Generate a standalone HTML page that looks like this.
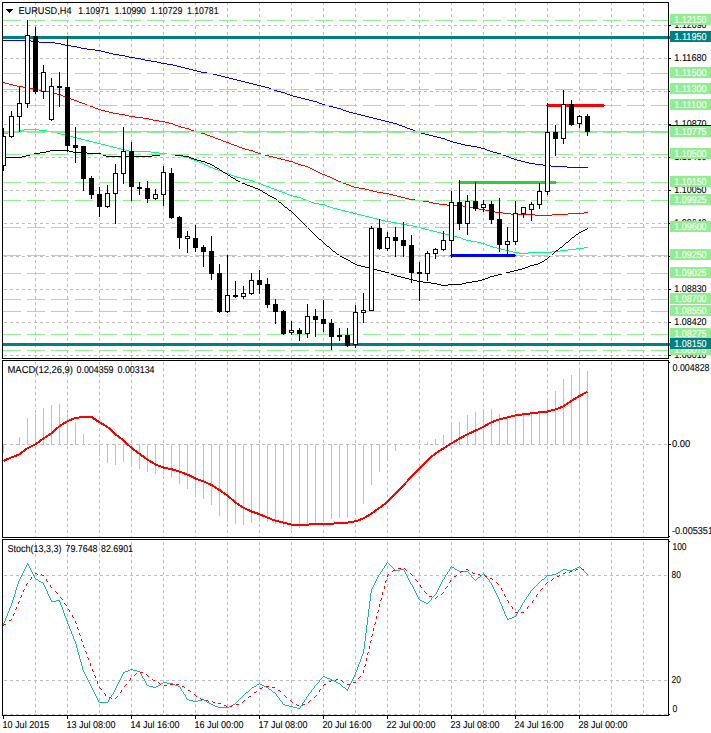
<!DOCTYPE html>
<html><head><meta charset="utf-8"><title>EURUSD,H4</title>
<style>
html,body{margin:0;padding:0;background:#fff;}
body{width:711px;height:733px;overflow:hidden;font-family:"Liberation Sans",sans-serif;}
svg{display:block;}
svg text{font-family:"Liberation Sans",sans-serif;}
</style></head><body>
<svg width="711" height="733" viewBox="0 0 711 733" shape-rendering="crispEdges" text-rendering="geometricPrecision" font-family="Liberation Sans, sans-serif">
<path d="M35.5 3v2M35.5 8v3M35.5 14v3M35.5 20v3M35.5 26v3M35.5 32v3M35.5 38v3M35.5 44v3M35.5 50v3M35.5 56v3M35.5 62v3M35.5 68v3M35.5 74v3M35.5 80v3M35.5 86v3M35.5 92v3M35.5 98v3M35.5 104v3M35.5 110v3M35.5 116v3M35.5 122v3M35.5 128v3M35.5 134v3M35.5 140v3M35.5 146v3M35.5 152v3M35.5 158v3M35.5 164v3M35.5 170v3M35.5 176v3M35.5 182v3M35.5 188v3M35.5 194v3M35.5 200v3M35.5 206v3M35.5 212v3M35.5 218v3M35.5 224v3M35.5 230v3M35.5 236v3M35.5 242v3M35.5 248v3M35.5 254v3M35.5 260v3M35.5 266v3M35.5 272v3M35.5 278v3M35.5 284v3M35.5 290v3M35.5 296v3M35.5 302v3M35.5 308v3M35.5 314v3M35.5 320v3M35.5 326v3M35.5 332v3M35.5 338v3M35.5 344v3M35.5 350v3M35.5 356v2" stroke="#BDBDBD" stroke-width="1" fill="none"/>
<path d="M67.5 3v2M67.5 8v3M67.5 14v3M67.5 20v3M67.5 26v3M67.5 32v3M67.5 38v3M67.5 44v3M67.5 50v3M67.5 56v3M67.5 62v3M67.5 68v3M67.5 74v3M67.5 80v3M67.5 86v3M67.5 92v3M67.5 98v3M67.5 104v3M67.5 110v3M67.5 116v3M67.5 122v3M67.5 128v3M67.5 134v3M67.5 140v3M67.5 146v3M67.5 152v3M67.5 158v3M67.5 164v3M67.5 170v3M67.5 176v3M67.5 182v3M67.5 188v3M67.5 194v3M67.5 200v3M67.5 206v3M67.5 212v3M67.5 218v3M67.5 224v3M67.5 230v3M67.5 236v3M67.5 242v3M67.5 248v3M67.5 254v3M67.5 260v3M67.5 266v3M67.5 272v3M67.5 278v3M67.5 284v3M67.5 290v3M67.5 296v3M67.5 302v3M67.5 308v3M67.5 314v3M67.5 320v3M67.5 326v3M67.5 332v3M67.5 338v3M67.5 344v3M67.5 350v3M67.5 356v2" stroke="#BDBDBD" stroke-width="1" fill="none"/>
<path d="M99.5 3v2M99.5 8v3M99.5 14v3M99.5 20v3M99.5 26v3M99.5 32v3M99.5 38v3M99.5 44v3M99.5 50v3M99.5 56v3M99.5 62v3M99.5 68v3M99.5 74v3M99.5 80v3M99.5 86v3M99.5 92v3M99.5 98v3M99.5 104v3M99.5 110v3M99.5 116v3M99.5 122v3M99.5 128v3M99.5 134v3M99.5 140v3M99.5 146v3M99.5 152v3M99.5 158v3M99.5 164v3M99.5 170v3M99.5 176v3M99.5 182v3M99.5 188v3M99.5 194v3M99.5 200v3M99.5 206v3M99.5 212v3M99.5 218v3M99.5 224v3M99.5 230v3M99.5 236v3M99.5 242v3M99.5 248v3M99.5 254v3M99.5 260v3M99.5 266v3M99.5 272v3M99.5 278v3M99.5 284v3M99.5 290v3M99.5 296v3M99.5 302v3M99.5 308v3M99.5 314v3M99.5 320v3M99.5 326v3M99.5 332v3M99.5 338v3M99.5 344v3M99.5 350v3M99.5 356v2" stroke="#BDBDBD" stroke-width="1" fill="none"/>
<path d="M131.5 3v2M131.5 8v3M131.5 14v3M131.5 20v3M131.5 26v3M131.5 32v3M131.5 38v3M131.5 44v3M131.5 50v3M131.5 56v3M131.5 62v3M131.5 68v3M131.5 74v3M131.5 80v3M131.5 86v3M131.5 92v3M131.5 98v3M131.5 104v3M131.5 110v3M131.5 116v3M131.5 122v3M131.5 128v3M131.5 134v3M131.5 140v3M131.5 146v3M131.5 152v3M131.5 158v3M131.5 164v3M131.5 170v3M131.5 176v3M131.5 182v3M131.5 188v3M131.5 194v3M131.5 200v3M131.5 206v3M131.5 212v3M131.5 218v3M131.5 224v3M131.5 230v3M131.5 236v3M131.5 242v3M131.5 248v3M131.5 254v3M131.5 260v3M131.5 266v3M131.5 272v3M131.5 278v3M131.5 284v3M131.5 290v3M131.5 296v3M131.5 302v3M131.5 308v3M131.5 314v3M131.5 320v3M131.5 326v3M131.5 332v3M131.5 338v3M131.5 344v3M131.5 350v3M131.5 356v2" stroke="#BDBDBD" stroke-width="1" fill="none"/>
<path d="M163.5 3v2M163.5 8v3M163.5 14v3M163.5 20v3M163.5 26v3M163.5 32v3M163.5 38v3M163.5 44v3M163.5 50v3M163.5 56v3M163.5 62v3M163.5 68v3M163.5 74v3M163.5 80v3M163.5 86v3M163.5 92v3M163.5 98v3M163.5 104v3M163.5 110v3M163.5 116v3M163.5 122v3M163.5 128v3M163.5 134v3M163.5 140v3M163.5 146v3M163.5 152v3M163.5 158v3M163.5 164v3M163.5 170v3M163.5 176v3M163.5 182v3M163.5 188v3M163.5 194v3M163.5 200v3M163.5 206v3M163.5 212v3M163.5 218v3M163.5 224v3M163.5 230v3M163.5 236v3M163.5 242v3M163.5 248v3M163.5 254v3M163.5 260v3M163.5 266v3M163.5 272v3M163.5 278v3M163.5 284v3M163.5 290v3M163.5 296v3M163.5 302v3M163.5 308v3M163.5 314v3M163.5 320v3M163.5 326v3M163.5 332v3M163.5 338v3M163.5 344v3M163.5 350v3M163.5 356v2" stroke="#BDBDBD" stroke-width="1" fill="none"/>
<path d="M195.5 3v2M195.5 8v3M195.5 14v3M195.5 20v3M195.5 26v3M195.5 32v3M195.5 38v3M195.5 44v3M195.5 50v3M195.5 56v3M195.5 62v3M195.5 68v3M195.5 74v3M195.5 80v3M195.5 86v3M195.5 92v3M195.5 98v3M195.5 104v3M195.5 110v3M195.5 116v3M195.5 122v3M195.5 128v3M195.5 134v3M195.5 140v3M195.5 146v3M195.5 152v3M195.5 158v3M195.5 164v3M195.5 170v3M195.5 176v3M195.5 182v3M195.5 188v3M195.5 194v3M195.5 200v3M195.5 206v3M195.5 212v3M195.5 218v3M195.5 224v3M195.5 230v3M195.5 236v3M195.5 242v3M195.5 248v3M195.5 254v3M195.5 260v3M195.5 266v3M195.5 272v3M195.5 278v3M195.5 284v3M195.5 290v3M195.5 296v3M195.5 302v3M195.5 308v3M195.5 314v3M195.5 320v3M195.5 326v3M195.5 332v3M195.5 338v3M195.5 344v3M195.5 350v3M195.5 356v2" stroke="#BDBDBD" stroke-width="1" fill="none"/>
<path d="M227.5 3v2M227.5 8v3M227.5 14v3M227.5 20v3M227.5 26v3M227.5 32v3M227.5 38v3M227.5 44v3M227.5 50v3M227.5 56v3M227.5 62v3M227.5 68v3M227.5 74v3M227.5 80v3M227.5 86v3M227.5 92v3M227.5 98v3M227.5 104v3M227.5 110v3M227.5 116v3M227.5 122v3M227.5 128v3M227.5 134v3M227.5 140v3M227.5 146v3M227.5 152v3M227.5 158v3M227.5 164v3M227.5 170v3M227.5 176v3M227.5 182v3M227.5 188v3M227.5 194v3M227.5 200v3M227.5 206v3M227.5 212v3M227.5 218v3M227.5 224v3M227.5 230v3M227.5 236v3M227.5 242v3M227.5 248v3M227.5 254v3M227.5 260v3M227.5 266v3M227.5 272v3M227.5 278v3M227.5 284v3M227.5 290v3M227.5 296v3M227.5 302v3M227.5 308v3M227.5 314v3M227.5 320v3M227.5 326v3M227.5 332v3M227.5 338v3M227.5 344v3M227.5 350v3M227.5 356v2" stroke="#BDBDBD" stroke-width="1" fill="none"/>
<path d="M259.5 3v2M259.5 8v3M259.5 14v3M259.5 20v3M259.5 26v3M259.5 32v3M259.5 38v3M259.5 44v3M259.5 50v3M259.5 56v3M259.5 62v3M259.5 68v3M259.5 74v3M259.5 80v3M259.5 86v3M259.5 92v3M259.5 98v3M259.5 104v3M259.5 110v3M259.5 116v3M259.5 122v3M259.5 128v3M259.5 134v3M259.5 140v3M259.5 146v3M259.5 152v3M259.5 158v3M259.5 164v3M259.5 170v3M259.5 176v3M259.5 182v3M259.5 188v3M259.5 194v3M259.5 200v3M259.5 206v3M259.5 212v3M259.5 218v3M259.5 224v3M259.5 230v3M259.5 236v3M259.5 242v3M259.5 248v3M259.5 254v3M259.5 260v3M259.5 266v3M259.5 272v3M259.5 278v3M259.5 284v3M259.5 290v3M259.5 296v3M259.5 302v3M259.5 308v3M259.5 314v3M259.5 320v3M259.5 326v3M259.5 332v3M259.5 338v3M259.5 344v3M259.5 350v3M259.5 356v2" stroke="#BDBDBD" stroke-width="1" fill="none"/>
<path d="M291.5 3v2M291.5 8v3M291.5 14v3M291.5 20v3M291.5 26v3M291.5 32v3M291.5 38v3M291.5 44v3M291.5 50v3M291.5 56v3M291.5 62v3M291.5 68v3M291.5 74v3M291.5 80v3M291.5 86v3M291.5 92v3M291.5 98v3M291.5 104v3M291.5 110v3M291.5 116v3M291.5 122v3M291.5 128v3M291.5 134v3M291.5 140v3M291.5 146v3M291.5 152v3M291.5 158v3M291.5 164v3M291.5 170v3M291.5 176v3M291.5 182v3M291.5 188v3M291.5 194v3M291.5 200v3M291.5 206v3M291.5 212v3M291.5 218v3M291.5 224v3M291.5 230v3M291.5 236v3M291.5 242v3M291.5 248v3M291.5 254v3M291.5 260v3M291.5 266v3M291.5 272v3M291.5 278v3M291.5 284v3M291.5 290v3M291.5 296v3M291.5 302v3M291.5 308v3M291.5 314v3M291.5 320v3M291.5 326v3M291.5 332v3M291.5 338v3M291.5 344v3M291.5 350v3M291.5 356v2" stroke="#BDBDBD" stroke-width="1" fill="none"/>
<path d="M323.5 3v2M323.5 8v3M323.5 14v3M323.5 20v3M323.5 26v3M323.5 32v3M323.5 38v3M323.5 44v3M323.5 50v3M323.5 56v3M323.5 62v3M323.5 68v3M323.5 74v3M323.5 80v3M323.5 86v3M323.5 92v3M323.5 98v3M323.5 104v3M323.5 110v3M323.5 116v3M323.5 122v3M323.5 128v3M323.5 134v3M323.5 140v3M323.5 146v3M323.5 152v3M323.5 158v3M323.5 164v3M323.5 170v3M323.5 176v3M323.5 182v3M323.5 188v3M323.5 194v3M323.5 200v3M323.5 206v3M323.5 212v3M323.5 218v3M323.5 224v3M323.5 230v3M323.5 236v3M323.5 242v3M323.5 248v3M323.5 254v3M323.5 260v3M323.5 266v3M323.5 272v3M323.5 278v3M323.5 284v3M323.5 290v3M323.5 296v3M323.5 302v3M323.5 308v3M323.5 314v3M323.5 320v3M323.5 326v3M323.5 332v3M323.5 338v3M323.5 344v3M323.5 350v3M323.5 356v2" stroke="#BDBDBD" stroke-width="1" fill="none"/>
<path d="M355.5 3v2M355.5 8v3M355.5 14v3M355.5 20v3M355.5 26v3M355.5 32v3M355.5 38v3M355.5 44v3M355.5 50v3M355.5 56v3M355.5 62v3M355.5 68v3M355.5 74v3M355.5 80v3M355.5 86v3M355.5 92v3M355.5 98v3M355.5 104v3M355.5 110v3M355.5 116v3M355.5 122v3M355.5 128v3M355.5 134v3M355.5 140v3M355.5 146v3M355.5 152v3M355.5 158v3M355.5 164v3M355.5 170v3M355.5 176v3M355.5 182v3M355.5 188v3M355.5 194v3M355.5 200v3M355.5 206v3M355.5 212v3M355.5 218v3M355.5 224v3M355.5 230v3M355.5 236v3M355.5 242v3M355.5 248v3M355.5 254v3M355.5 260v3M355.5 266v3M355.5 272v3M355.5 278v3M355.5 284v3M355.5 290v3M355.5 296v3M355.5 302v3M355.5 308v3M355.5 314v3M355.5 320v3M355.5 326v3M355.5 332v3M355.5 338v3M355.5 344v3M355.5 350v3M355.5 356v2" stroke="#BDBDBD" stroke-width="1" fill="none"/>
<path d="M387.5 3v2M387.5 8v3M387.5 14v3M387.5 20v3M387.5 26v3M387.5 32v3M387.5 38v3M387.5 44v3M387.5 50v3M387.5 56v3M387.5 62v3M387.5 68v3M387.5 74v3M387.5 80v3M387.5 86v3M387.5 92v3M387.5 98v3M387.5 104v3M387.5 110v3M387.5 116v3M387.5 122v3M387.5 128v3M387.5 134v3M387.5 140v3M387.5 146v3M387.5 152v3M387.5 158v3M387.5 164v3M387.5 170v3M387.5 176v3M387.5 182v3M387.5 188v3M387.5 194v3M387.5 200v3M387.5 206v3M387.5 212v3M387.5 218v3M387.5 224v3M387.5 230v3M387.5 236v3M387.5 242v3M387.5 248v3M387.5 254v3M387.5 260v3M387.5 266v3M387.5 272v3M387.5 278v3M387.5 284v3M387.5 290v3M387.5 296v3M387.5 302v3M387.5 308v3M387.5 314v3M387.5 320v3M387.5 326v3M387.5 332v3M387.5 338v3M387.5 344v3M387.5 350v3M387.5 356v2" stroke="#BDBDBD" stroke-width="1" fill="none"/>
<path d="M419.5 3v2M419.5 8v3M419.5 14v3M419.5 20v3M419.5 26v3M419.5 32v3M419.5 38v3M419.5 44v3M419.5 50v3M419.5 56v3M419.5 62v3M419.5 68v3M419.5 74v3M419.5 80v3M419.5 86v3M419.5 92v3M419.5 98v3M419.5 104v3M419.5 110v3M419.5 116v3M419.5 122v3M419.5 128v3M419.5 134v3M419.5 140v3M419.5 146v3M419.5 152v3M419.5 158v3M419.5 164v3M419.5 170v3M419.5 176v3M419.5 182v3M419.5 188v3M419.5 194v3M419.5 200v3M419.5 206v3M419.5 212v3M419.5 218v3M419.5 224v3M419.5 230v3M419.5 236v3M419.5 242v3M419.5 248v3M419.5 254v3M419.5 260v3M419.5 266v3M419.5 272v3M419.5 278v3M419.5 284v3M419.5 290v3M419.5 296v3M419.5 302v3M419.5 308v3M419.5 314v3M419.5 320v3M419.5 326v3M419.5 332v3M419.5 338v3M419.5 344v3M419.5 350v3M419.5 356v2" stroke="#BDBDBD" stroke-width="1" fill="none"/>
<path d="M451.5 3v2M451.5 8v3M451.5 14v3M451.5 20v3M451.5 26v3M451.5 32v3M451.5 38v3M451.5 44v3M451.5 50v3M451.5 56v3M451.5 62v3M451.5 68v3M451.5 74v3M451.5 80v3M451.5 86v3M451.5 92v3M451.5 98v3M451.5 104v3M451.5 110v3M451.5 116v3M451.5 122v3M451.5 128v3M451.5 134v3M451.5 140v3M451.5 146v3M451.5 152v3M451.5 158v3M451.5 164v3M451.5 170v3M451.5 176v3M451.5 182v3M451.5 188v3M451.5 194v3M451.5 200v3M451.5 206v3M451.5 212v3M451.5 218v3M451.5 224v3M451.5 230v3M451.5 236v3M451.5 242v3M451.5 248v3M451.5 254v3M451.5 260v3M451.5 266v3M451.5 272v3M451.5 278v3M451.5 284v3M451.5 290v3M451.5 296v3M451.5 302v3M451.5 308v3M451.5 314v3M451.5 320v3M451.5 326v3M451.5 332v3M451.5 338v3M451.5 344v3M451.5 350v3M451.5 356v2" stroke="#BDBDBD" stroke-width="1" fill="none"/>
<path d="M483.5 3v2M483.5 8v3M483.5 14v3M483.5 20v3M483.5 26v3M483.5 32v3M483.5 38v3M483.5 44v3M483.5 50v3M483.5 56v3M483.5 62v3M483.5 68v3M483.5 74v3M483.5 80v3M483.5 86v3M483.5 92v3M483.5 98v3M483.5 104v3M483.5 110v3M483.5 116v3M483.5 122v3M483.5 128v3M483.5 134v3M483.5 140v3M483.5 146v3M483.5 152v3M483.5 158v3M483.5 164v3M483.5 170v3M483.5 176v3M483.5 182v3M483.5 188v3M483.5 194v3M483.5 200v3M483.5 206v3M483.5 212v3M483.5 218v3M483.5 224v3M483.5 230v3M483.5 236v3M483.5 242v3M483.5 248v3M483.5 254v3M483.5 260v3M483.5 266v3M483.5 272v3M483.5 278v3M483.5 284v3M483.5 290v3M483.5 296v3M483.5 302v3M483.5 308v3M483.5 314v3M483.5 320v3M483.5 326v3M483.5 332v3M483.5 338v3M483.5 344v3M483.5 350v3M483.5 356v2" stroke="#BDBDBD" stroke-width="1" fill="none"/>
<path d="M515.5 3v2M515.5 8v3M515.5 14v3M515.5 20v3M515.5 26v3M515.5 32v3M515.5 38v3M515.5 44v3M515.5 50v3M515.5 56v3M515.5 62v3M515.5 68v3M515.5 74v3M515.5 80v3M515.5 86v3M515.5 92v3M515.5 98v3M515.5 104v3M515.5 110v3M515.5 116v3M515.5 122v3M515.5 128v3M515.5 134v3M515.5 140v3M515.5 146v3M515.5 152v3M515.5 158v3M515.5 164v3M515.5 170v3M515.5 176v3M515.5 182v3M515.5 188v3M515.5 194v3M515.5 200v3M515.5 206v3M515.5 212v3M515.5 218v3M515.5 224v3M515.5 230v3M515.5 236v3M515.5 242v3M515.5 248v3M515.5 254v3M515.5 260v3M515.5 266v3M515.5 272v3M515.5 278v3M515.5 284v3M515.5 290v3M515.5 296v3M515.5 302v3M515.5 308v3M515.5 314v3M515.5 320v3M515.5 326v3M515.5 332v3M515.5 338v3M515.5 344v3M515.5 350v3M515.5 356v2" stroke="#BDBDBD" stroke-width="1" fill="none"/>
<path d="M547.5 3v2M547.5 8v3M547.5 14v3M547.5 20v3M547.5 26v3M547.5 32v3M547.5 38v3M547.5 44v3M547.5 50v3M547.5 56v3M547.5 62v3M547.5 68v3M547.5 74v3M547.5 80v3M547.5 86v3M547.5 92v3M547.5 98v3M547.5 104v3M547.5 110v3M547.5 116v3M547.5 122v3M547.5 128v3M547.5 134v3M547.5 140v3M547.5 146v3M547.5 152v3M547.5 158v3M547.5 164v3M547.5 170v3M547.5 176v3M547.5 182v3M547.5 188v3M547.5 194v3M547.5 200v3M547.5 206v3M547.5 212v3M547.5 218v3M547.5 224v3M547.5 230v3M547.5 236v3M547.5 242v3M547.5 248v3M547.5 254v3M547.5 260v3M547.5 266v3M547.5 272v3M547.5 278v3M547.5 284v3M547.5 290v3M547.5 296v3M547.5 302v3M547.5 308v3M547.5 314v3M547.5 320v3M547.5 326v3M547.5 332v3M547.5 338v3M547.5 344v3M547.5 350v3M547.5 356v2" stroke="#BDBDBD" stroke-width="1" fill="none"/>
<path d="M579.5 3v2M579.5 8v3M579.5 14v3M579.5 20v3M579.5 26v3M579.5 32v3M579.5 38v3M579.5 44v3M579.5 50v3M579.5 56v3M579.5 62v3M579.5 68v3M579.5 74v3M579.5 80v3M579.5 86v3M579.5 92v3M579.5 98v3M579.5 104v3M579.5 110v3M579.5 116v3M579.5 122v3M579.5 128v3M579.5 134v3M579.5 140v3M579.5 146v3M579.5 152v3M579.5 158v3M579.5 164v3M579.5 170v3M579.5 176v3M579.5 182v3M579.5 188v3M579.5 194v3M579.5 200v3M579.5 206v3M579.5 212v3M579.5 218v3M579.5 224v3M579.5 230v3M579.5 236v3M579.5 242v3M579.5 248v3M579.5 254v3M579.5 260v3M579.5 266v3M579.5 272v3M579.5 278v3M579.5 284v3M579.5 290v3M579.5 296v3M579.5 302v3M579.5 308v3M579.5 314v3M579.5 320v3M579.5 326v3M579.5 332v3M579.5 338v3M579.5 344v3M579.5 350v3M579.5 356v2" stroke="#BDBDBD" stroke-width="1" fill="none"/>
<path d="M611.5 3v2M611.5 8v3M611.5 14v3M611.5 20v3M611.5 26v3M611.5 32v3M611.5 38v3M611.5 44v3M611.5 50v3M611.5 56v3M611.5 62v3M611.5 68v3M611.5 74v3M611.5 80v3M611.5 86v3M611.5 92v3M611.5 98v3M611.5 104v3M611.5 110v3M611.5 116v3M611.5 122v3M611.5 128v3M611.5 134v3M611.5 140v3M611.5 146v3M611.5 152v3M611.5 158v3M611.5 164v3M611.5 170v3M611.5 176v3M611.5 182v3M611.5 188v3M611.5 194v3M611.5 200v3M611.5 206v3M611.5 212v3M611.5 218v3M611.5 224v3M611.5 230v3M611.5 236v3M611.5 242v3M611.5 248v3M611.5 254v3M611.5 260v3M611.5 266v3M611.5 272v3M611.5 278v3M611.5 284v3M611.5 290v3M611.5 296v3M611.5 302v3M611.5 308v3M611.5 314v3M611.5 320v3M611.5 326v3M611.5 332v3M611.5 338v3M611.5 344v3M611.5 350v3M611.5 356v2" stroke="#BDBDBD" stroke-width="1" fill="none"/>
<path d="M643.5 3v2M643.5 8v3M643.5 14v3M643.5 20v3M643.5 26v3M643.5 32v3M643.5 38v3M643.5 44v3M643.5 50v3M643.5 56v3M643.5 62v3M643.5 68v3M643.5 74v3M643.5 80v3M643.5 86v3M643.5 92v3M643.5 98v3M643.5 104v3M643.5 110v3M643.5 116v3M643.5 122v3M643.5 128v3M643.5 134v3M643.5 140v3M643.5 146v3M643.5 152v3M643.5 158v3M643.5 164v3M643.5 170v3M643.5 176v3M643.5 182v3M643.5 188v3M643.5 194v3M643.5 200v3M643.5 206v3M643.5 212v3M643.5 218v3M643.5 224v3M643.5 230v3M643.5 236v3M643.5 242v3M643.5 248v3M643.5 254v3M643.5 260v3M643.5 266v3M643.5 272v3M643.5 278v3M643.5 284v3M643.5 290v3M643.5 296v3M643.5 302v3M643.5 308v3M643.5 314v3M643.5 320v3M643.5 326v3M643.5 332v3M643.5 338v3M643.5 344v3M643.5 350v3M643.5 356v2" stroke="#BDBDBD" stroke-width="1" fill="none"/>
<path d="M35.5 362v3M35.5 368v3M35.5 374v3M35.5 380v3M35.5 386v3M35.5 392v3M35.5 398v3M35.5 404v3M35.5 410v3M35.5 416v3M35.5 422v3M35.5 428v3M35.5 434v3M35.5 440v3M35.5 446v3M35.5 452v3M35.5 458v3M35.5 464v3M35.5 470v3M35.5 476v3M35.5 482v3M35.5 488v3M35.5 494v3M35.5 500v3M35.5 506v3M35.5 512v3M35.5 518v3M35.5 524v3M35.5 530v3M35.5 536v1" stroke="#BDBDBD" stroke-width="1" fill="none"/>
<path d="M67.5 362v3M67.5 368v3M67.5 374v3M67.5 380v3M67.5 386v3M67.5 392v3M67.5 398v3M67.5 404v3M67.5 410v3M67.5 416v3M67.5 422v3M67.5 428v3M67.5 434v3M67.5 440v3M67.5 446v3M67.5 452v3M67.5 458v3M67.5 464v3M67.5 470v3M67.5 476v3M67.5 482v3M67.5 488v3M67.5 494v3M67.5 500v3M67.5 506v3M67.5 512v3M67.5 518v3M67.5 524v3M67.5 530v3M67.5 536v1" stroke="#BDBDBD" stroke-width="1" fill="none"/>
<path d="M99.5 362v3M99.5 368v3M99.5 374v3M99.5 380v3M99.5 386v3M99.5 392v3M99.5 398v3M99.5 404v3M99.5 410v3M99.5 416v3M99.5 422v3M99.5 428v3M99.5 434v3M99.5 440v3M99.5 446v3M99.5 452v3M99.5 458v3M99.5 464v3M99.5 470v3M99.5 476v3M99.5 482v3M99.5 488v3M99.5 494v3M99.5 500v3M99.5 506v3M99.5 512v3M99.5 518v3M99.5 524v3M99.5 530v3M99.5 536v1" stroke="#BDBDBD" stroke-width="1" fill="none"/>
<path d="M131.5 362v3M131.5 368v3M131.5 374v3M131.5 380v3M131.5 386v3M131.5 392v3M131.5 398v3M131.5 404v3M131.5 410v3M131.5 416v3M131.5 422v3M131.5 428v3M131.5 434v3M131.5 440v3M131.5 446v3M131.5 452v3M131.5 458v3M131.5 464v3M131.5 470v3M131.5 476v3M131.5 482v3M131.5 488v3M131.5 494v3M131.5 500v3M131.5 506v3M131.5 512v3M131.5 518v3M131.5 524v3M131.5 530v3M131.5 536v1" stroke="#BDBDBD" stroke-width="1" fill="none"/>
<path d="M163.5 362v3M163.5 368v3M163.5 374v3M163.5 380v3M163.5 386v3M163.5 392v3M163.5 398v3M163.5 404v3M163.5 410v3M163.5 416v3M163.5 422v3M163.5 428v3M163.5 434v3M163.5 440v3M163.5 446v3M163.5 452v3M163.5 458v3M163.5 464v3M163.5 470v3M163.5 476v3M163.5 482v3M163.5 488v3M163.5 494v3M163.5 500v3M163.5 506v3M163.5 512v3M163.5 518v3M163.5 524v3M163.5 530v3M163.5 536v1" stroke="#BDBDBD" stroke-width="1" fill="none"/>
<path d="M195.5 362v3M195.5 368v3M195.5 374v3M195.5 380v3M195.5 386v3M195.5 392v3M195.5 398v3M195.5 404v3M195.5 410v3M195.5 416v3M195.5 422v3M195.5 428v3M195.5 434v3M195.5 440v3M195.5 446v3M195.5 452v3M195.5 458v3M195.5 464v3M195.5 470v3M195.5 476v3M195.5 482v3M195.5 488v3M195.5 494v3M195.5 500v3M195.5 506v3M195.5 512v3M195.5 518v3M195.5 524v3M195.5 530v3M195.5 536v1" stroke="#BDBDBD" stroke-width="1" fill="none"/>
<path d="M227.5 362v3M227.5 368v3M227.5 374v3M227.5 380v3M227.5 386v3M227.5 392v3M227.5 398v3M227.5 404v3M227.5 410v3M227.5 416v3M227.5 422v3M227.5 428v3M227.5 434v3M227.5 440v3M227.5 446v3M227.5 452v3M227.5 458v3M227.5 464v3M227.5 470v3M227.5 476v3M227.5 482v3M227.5 488v3M227.5 494v3M227.5 500v3M227.5 506v3M227.5 512v3M227.5 518v3M227.5 524v3M227.5 530v3M227.5 536v1" stroke="#BDBDBD" stroke-width="1" fill="none"/>
<path d="M259.5 362v3M259.5 368v3M259.5 374v3M259.5 380v3M259.5 386v3M259.5 392v3M259.5 398v3M259.5 404v3M259.5 410v3M259.5 416v3M259.5 422v3M259.5 428v3M259.5 434v3M259.5 440v3M259.5 446v3M259.5 452v3M259.5 458v3M259.5 464v3M259.5 470v3M259.5 476v3M259.5 482v3M259.5 488v3M259.5 494v3M259.5 500v3M259.5 506v3M259.5 512v3M259.5 518v3M259.5 524v3M259.5 530v3M259.5 536v1" stroke="#BDBDBD" stroke-width="1" fill="none"/>
<path d="M291.5 362v3M291.5 368v3M291.5 374v3M291.5 380v3M291.5 386v3M291.5 392v3M291.5 398v3M291.5 404v3M291.5 410v3M291.5 416v3M291.5 422v3M291.5 428v3M291.5 434v3M291.5 440v3M291.5 446v3M291.5 452v3M291.5 458v3M291.5 464v3M291.5 470v3M291.5 476v3M291.5 482v3M291.5 488v3M291.5 494v3M291.5 500v3M291.5 506v3M291.5 512v3M291.5 518v3M291.5 524v3M291.5 530v3M291.5 536v1" stroke="#BDBDBD" stroke-width="1" fill="none"/>
<path d="M323.5 362v3M323.5 368v3M323.5 374v3M323.5 380v3M323.5 386v3M323.5 392v3M323.5 398v3M323.5 404v3M323.5 410v3M323.5 416v3M323.5 422v3M323.5 428v3M323.5 434v3M323.5 440v3M323.5 446v3M323.5 452v3M323.5 458v3M323.5 464v3M323.5 470v3M323.5 476v3M323.5 482v3M323.5 488v3M323.5 494v3M323.5 500v3M323.5 506v3M323.5 512v3M323.5 518v3M323.5 524v3M323.5 530v3M323.5 536v1" stroke="#BDBDBD" stroke-width="1" fill="none"/>
<path d="M355.5 362v3M355.5 368v3M355.5 374v3M355.5 380v3M355.5 386v3M355.5 392v3M355.5 398v3M355.5 404v3M355.5 410v3M355.5 416v3M355.5 422v3M355.5 428v3M355.5 434v3M355.5 440v3M355.5 446v3M355.5 452v3M355.5 458v3M355.5 464v3M355.5 470v3M355.5 476v3M355.5 482v3M355.5 488v3M355.5 494v3M355.5 500v3M355.5 506v3M355.5 512v3M355.5 518v3M355.5 524v3M355.5 530v3M355.5 536v1" stroke="#BDBDBD" stroke-width="1" fill="none"/>
<path d="M387.5 362v3M387.5 368v3M387.5 374v3M387.5 380v3M387.5 386v3M387.5 392v3M387.5 398v3M387.5 404v3M387.5 410v3M387.5 416v3M387.5 422v3M387.5 428v3M387.5 434v3M387.5 440v3M387.5 446v3M387.5 452v3M387.5 458v3M387.5 464v3M387.5 470v3M387.5 476v3M387.5 482v3M387.5 488v3M387.5 494v3M387.5 500v3M387.5 506v3M387.5 512v3M387.5 518v3M387.5 524v3M387.5 530v3M387.5 536v1" stroke="#BDBDBD" stroke-width="1" fill="none"/>
<path d="M419.5 362v3M419.5 368v3M419.5 374v3M419.5 380v3M419.5 386v3M419.5 392v3M419.5 398v3M419.5 404v3M419.5 410v3M419.5 416v3M419.5 422v3M419.5 428v3M419.5 434v3M419.5 440v3M419.5 446v3M419.5 452v3M419.5 458v3M419.5 464v3M419.5 470v3M419.5 476v3M419.5 482v3M419.5 488v3M419.5 494v3M419.5 500v3M419.5 506v3M419.5 512v3M419.5 518v3M419.5 524v3M419.5 530v3M419.5 536v1" stroke="#BDBDBD" stroke-width="1" fill="none"/>
<path d="M451.5 362v3M451.5 368v3M451.5 374v3M451.5 380v3M451.5 386v3M451.5 392v3M451.5 398v3M451.5 404v3M451.5 410v3M451.5 416v3M451.5 422v3M451.5 428v3M451.5 434v3M451.5 440v3M451.5 446v3M451.5 452v3M451.5 458v3M451.5 464v3M451.5 470v3M451.5 476v3M451.5 482v3M451.5 488v3M451.5 494v3M451.5 500v3M451.5 506v3M451.5 512v3M451.5 518v3M451.5 524v3M451.5 530v3M451.5 536v1" stroke="#BDBDBD" stroke-width="1" fill="none"/>
<path d="M483.5 362v3M483.5 368v3M483.5 374v3M483.5 380v3M483.5 386v3M483.5 392v3M483.5 398v3M483.5 404v3M483.5 410v3M483.5 416v3M483.5 422v3M483.5 428v3M483.5 434v3M483.5 440v3M483.5 446v3M483.5 452v3M483.5 458v3M483.5 464v3M483.5 470v3M483.5 476v3M483.5 482v3M483.5 488v3M483.5 494v3M483.5 500v3M483.5 506v3M483.5 512v3M483.5 518v3M483.5 524v3M483.5 530v3M483.5 536v1" stroke="#BDBDBD" stroke-width="1" fill="none"/>
<path d="M515.5 362v3M515.5 368v3M515.5 374v3M515.5 380v3M515.5 386v3M515.5 392v3M515.5 398v3M515.5 404v3M515.5 410v3M515.5 416v3M515.5 422v3M515.5 428v3M515.5 434v3M515.5 440v3M515.5 446v3M515.5 452v3M515.5 458v3M515.5 464v3M515.5 470v3M515.5 476v3M515.5 482v3M515.5 488v3M515.5 494v3M515.5 500v3M515.5 506v3M515.5 512v3M515.5 518v3M515.5 524v3M515.5 530v3M515.5 536v1" stroke="#BDBDBD" stroke-width="1" fill="none"/>
<path d="M547.5 362v3M547.5 368v3M547.5 374v3M547.5 380v3M547.5 386v3M547.5 392v3M547.5 398v3M547.5 404v3M547.5 410v3M547.5 416v3M547.5 422v3M547.5 428v3M547.5 434v3M547.5 440v3M547.5 446v3M547.5 452v3M547.5 458v3M547.5 464v3M547.5 470v3M547.5 476v3M547.5 482v3M547.5 488v3M547.5 494v3M547.5 500v3M547.5 506v3M547.5 512v3M547.5 518v3M547.5 524v3M547.5 530v3M547.5 536v1" stroke="#BDBDBD" stroke-width="1" fill="none"/>
<path d="M579.5 362v3M579.5 368v3M579.5 374v3M579.5 380v3M579.5 386v3M579.5 392v3M579.5 398v3M579.5 404v3M579.5 410v3M579.5 416v3M579.5 422v3M579.5 428v3M579.5 434v3M579.5 440v3M579.5 446v3M579.5 452v3M579.5 458v3M579.5 464v3M579.5 470v3M579.5 476v3M579.5 482v3M579.5 488v3M579.5 494v3M579.5 500v3M579.5 506v3M579.5 512v3M579.5 518v3M579.5 524v3M579.5 530v3M579.5 536v1" stroke="#BDBDBD" stroke-width="1" fill="none"/>
<path d="M611.5 362v3M611.5 368v3M611.5 374v3M611.5 380v3M611.5 386v3M611.5 392v3M611.5 398v3M611.5 404v3M611.5 410v3M611.5 416v3M611.5 422v3M611.5 428v3M611.5 434v3M611.5 440v3M611.5 446v3M611.5 452v3M611.5 458v3M611.5 464v3M611.5 470v3M611.5 476v3M611.5 482v3M611.5 488v3M611.5 494v3M611.5 500v3M611.5 506v3M611.5 512v3M611.5 518v3M611.5 524v3M611.5 530v3M611.5 536v1" stroke="#BDBDBD" stroke-width="1" fill="none"/>
<path d="M643.5 362v3M643.5 368v3M643.5 374v3M643.5 380v3M643.5 386v3M643.5 392v3M643.5 398v3M643.5 404v3M643.5 410v3M643.5 416v3M643.5 422v3M643.5 428v3M643.5 434v3M643.5 440v3M643.5 446v3M643.5 452v3M643.5 458v3M643.5 464v3M643.5 470v3M643.5 476v3M643.5 482v3M643.5 488v3M643.5 494v3M643.5 500v3M643.5 506v3M643.5 512v3M643.5 518v3M643.5 524v3M643.5 530v3M643.5 536v1" stroke="#BDBDBD" stroke-width="1" fill="none"/>
<path d="M35.5 542v3M35.5 548v3M35.5 554v3M35.5 560v3M35.5 566v3M35.5 572v3M35.5 578v3M35.5 584v3M35.5 590v3M35.5 596v3M35.5 602v3M35.5 608v3M35.5 614v3M35.5 620v3M35.5 626v3M35.5 632v3M35.5 638v3M35.5 644v3M35.5 650v3M35.5 656v3M35.5 662v3M35.5 668v3M35.5 674v3M35.5 680v3M35.5 686v3M35.5 692v3M35.5 698v3M35.5 704v3M35.5 710v3" stroke="#BDBDBD" stroke-width="1" fill="none"/>
<path d="M67.5 542v3M67.5 548v3M67.5 554v3M67.5 560v3M67.5 566v3M67.5 572v3M67.5 578v3M67.5 584v3M67.5 590v3M67.5 596v3M67.5 602v3M67.5 608v3M67.5 614v3M67.5 620v3M67.5 626v3M67.5 632v3M67.5 638v3M67.5 644v3M67.5 650v3M67.5 656v3M67.5 662v3M67.5 668v3M67.5 674v3M67.5 680v3M67.5 686v3M67.5 692v3M67.5 698v3M67.5 704v3M67.5 710v3" stroke="#BDBDBD" stroke-width="1" fill="none"/>
<path d="M99.5 542v3M99.5 548v3M99.5 554v3M99.5 560v3M99.5 566v3M99.5 572v3M99.5 578v3M99.5 584v3M99.5 590v3M99.5 596v3M99.5 602v3M99.5 608v3M99.5 614v3M99.5 620v3M99.5 626v3M99.5 632v3M99.5 638v3M99.5 644v3M99.5 650v3M99.5 656v3M99.5 662v3M99.5 668v3M99.5 674v3M99.5 680v3M99.5 686v3M99.5 692v3M99.5 698v3M99.5 704v3M99.5 710v3" stroke="#BDBDBD" stroke-width="1" fill="none"/>
<path d="M131.5 542v3M131.5 548v3M131.5 554v3M131.5 560v3M131.5 566v3M131.5 572v3M131.5 578v3M131.5 584v3M131.5 590v3M131.5 596v3M131.5 602v3M131.5 608v3M131.5 614v3M131.5 620v3M131.5 626v3M131.5 632v3M131.5 638v3M131.5 644v3M131.5 650v3M131.5 656v3M131.5 662v3M131.5 668v3M131.5 674v3M131.5 680v3M131.5 686v3M131.5 692v3M131.5 698v3M131.5 704v3M131.5 710v3" stroke="#BDBDBD" stroke-width="1" fill="none"/>
<path d="M163.5 542v3M163.5 548v3M163.5 554v3M163.5 560v3M163.5 566v3M163.5 572v3M163.5 578v3M163.5 584v3M163.5 590v3M163.5 596v3M163.5 602v3M163.5 608v3M163.5 614v3M163.5 620v3M163.5 626v3M163.5 632v3M163.5 638v3M163.5 644v3M163.5 650v3M163.5 656v3M163.5 662v3M163.5 668v3M163.5 674v3M163.5 680v3M163.5 686v3M163.5 692v3M163.5 698v3M163.5 704v3M163.5 710v3" stroke="#BDBDBD" stroke-width="1" fill="none"/>
<path d="M195.5 542v3M195.5 548v3M195.5 554v3M195.5 560v3M195.5 566v3M195.5 572v3M195.5 578v3M195.5 584v3M195.5 590v3M195.5 596v3M195.5 602v3M195.5 608v3M195.5 614v3M195.5 620v3M195.5 626v3M195.5 632v3M195.5 638v3M195.5 644v3M195.5 650v3M195.5 656v3M195.5 662v3M195.5 668v3M195.5 674v3M195.5 680v3M195.5 686v3M195.5 692v3M195.5 698v3M195.5 704v3M195.5 710v3" stroke="#BDBDBD" stroke-width="1" fill="none"/>
<path d="M227.5 542v3M227.5 548v3M227.5 554v3M227.5 560v3M227.5 566v3M227.5 572v3M227.5 578v3M227.5 584v3M227.5 590v3M227.5 596v3M227.5 602v3M227.5 608v3M227.5 614v3M227.5 620v3M227.5 626v3M227.5 632v3M227.5 638v3M227.5 644v3M227.5 650v3M227.5 656v3M227.5 662v3M227.5 668v3M227.5 674v3M227.5 680v3M227.5 686v3M227.5 692v3M227.5 698v3M227.5 704v3M227.5 710v3" stroke="#BDBDBD" stroke-width="1" fill="none"/>
<path d="M259.5 542v3M259.5 548v3M259.5 554v3M259.5 560v3M259.5 566v3M259.5 572v3M259.5 578v3M259.5 584v3M259.5 590v3M259.5 596v3M259.5 602v3M259.5 608v3M259.5 614v3M259.5 620v3M259.5 626v3M259.5 632v3M259.5 638v3M259.5 644v3M259.5 650v3M259.5 656v3M259.5 662v3M259.5 668v3M259.5 674v3M259.5 680v3M259.5 686v3M259.5 692v3M259.5 698v3M259.5 704v3M259.5 710v3" stroke="#BDBDBD" stroke-width="1" fill="none"/>
<path d="M291.5 542v3M291.5 548v3M291.5 554v3M291.5 560v3M291.5 566v3M291.5 572v3M291.5 578v3M291.5 584v3M291.5 590v3M291.5 596v3M291.5 602v3M291.5 608v3M291.5 614v3M291.5 620v3M291.5 626v3M291.5 632v3M291.5 638v3M291.5 644v3M291.5 650v3M291.5 656v3M291.5 662v3M291.5 668v3M291.5 674v3M291.5 680v3M291.5 686v3M291.5 692v3M291.5 698v3M291.5 704v3M291.5 710v3" stroke="#BDBDBD" stroke-width="1" fill="none"/>
<path d="M323.5 542v3M323.5 548v3M323.5 554v3M323.5 560v3M323.5 566v3M323.5 572v3M323.5 578v3M323.5 584v3M323.5 590v3M323.5 596v3M323.5 602v3M323.5 608v3M323.5 614v3M323.5 620v3M323.5 626v3M323.5 632v3M323.5 638v3M323.5 644v3M323.5 650v3M323.5 656v3M323.5 662v3M323.5 668v3M323.5 674v3M323.5 680v3M323.5 686v3M323.5 692v3M323.5 698v3M323.5 704v3M323.5 710v3" stroke="#BDBDBD" stroke-width="1" fill="none"/>
<path d="M355.5 542v3M355.5 548v3M355.5 554v3M355.5 560v3M355.5 566v3M355.5 572v3M355.5 578v3M355.5 584v3M355.5 590v3M355.5 596v3M355.5 602v3M355.5 608v3M355.5 614v3M355.5 620v3M355.5 626v3M355.5 632v3M355.5 638v3M355.5 644v3M355.5 650v3M355.5 656v3M355.5 662v3M355.5 668v3M355.5 674v3M355.5 680v3M355.5 686v3M355.5 692v3M355.5 698v3M355.5 704v3M355.5 710v3" stroke="#BDBDBD" stroke-width="1" fill="none"/>
<path d="M387.5 542v3M387.5 548v3M387.5 554v3M387.5 560v3M387.5 566v3M387.5 572v3M387.5 578v3M387.5 584v3M387.5 590v3M387.5 596v3M387.5 602v3M387.5 608v3M387.5 614v3M387.5 620v3M387.5 626v3M387.5 632v3M387.5 638v3M387.5 644v3M387.5 650v3M387.5 656v3M387.5 662v3M387.5 668v3M387.5 674v3M387.5 680v3M387.5 686v3M387.5 692v3M387.5 698v3M387.5 704v3M387.5 710v3" stroke="#BDBDBD" stroke-width="1" fill="none"/>
<path d="M419.5 542v3M419.5 548v3M419.5 554v3M419.5 560v3M419.5 566v3M419.5 572v3M419.5 578v3M419.5 584v3M419.5 590v3M419.5 596v3M419.5 602v3M419.5 608v3M419.5 614v3M419.5 620v3M419.5 626v3M419.5 632v3M419.5 638v3M419.5 644v3M419.5 650v3M419.5 656v3M419.5 662v3M419.5 668v3M419.5 674v3M419.5 680v3M419.5 686v3M419.5 692v3M419.5 698v3M419.5 704v3M419.5 710v3" stroke="#BDBDBD" stroke-width="1" fill="none"/>
<path d="M451.5 542v3M451.5 548v3M451.5 554v3M451.5 560v3M451.5 566v3M451.5 572v3M451.5 578v3M451.5 584v3M451.5 590v3M451.5 596v3M451.5 602v3M451.5 608v3M451.5 614v3M451.5 620v3M451.5 626v3M451.5 632v3M451.5 638v3M451.5 644v3M451.5 650v3M451.5 656v3M451.5 662v3M451.5 668v3M451.5 674v3M451.5 680v3M451.5 686v3M451.5 692v3M451.5 698v3M451.5 704v3M451.5 710v3" stroke="#BDBDBD" stroke-width="1" fill="none"/>
<path d="M483.5 542v3M483.5 548v3M483.5 554v3M483.5 560v3M483.5 566v3M483.5 572v3M483.5 578v3M483.5 584v3M483.5 590v3M483.5 596v3M483.5 602v3M483.5 608v3M483.5 614v3M483.5 620v3M483.5 626v3M483.5 632v3M483.5 638v3M483.5 644v3M483.5 650v3M483.5 656v3M483.5 662v3M483.5 668v3M483.5 674v3M483.5 680v3M483.5 686v3M483.5 692v3M483.5 698v3M483.5 704v3M483.5 710v3" stroke="#BDBDBD" stroke-width="1" fill="none"/>
<path d="M515.5 542v3M515.5 548v3M515.5 554v3M515.5 560v3M515.5 566v3M515.5 572v3M515.5 578v3M515.5 584v3M515.5 590v3M515.5 596v3M515.5 602v3M515.5 608v3M515.5 614v3M515.5 620v3M515.5 626v3M515.5 632v3M515.5 638v3M515.5 644v3M515.5 650v3M515.5 656v3M515.5 662v3M515.5 668v3M515.5 674v3M515.5 680v3M515.5 686v3M515.5 692v3M515.5 698v3M515.5 704v3M515.5 710v3" stroke="#BDBDBD" stroke-width="1" fill="none"/>
<path d="M547.5 542v3M547.5 548v3M547.5 554v3M547.5 560v3M547.5 566v3M547.5 572v3M547.5 578v3M547.5 584v3M547.5 590v3M547.5 596v3M547.5 602v3M547.5 608v3M547.5 614v3M547.5 620v3M547.5 626v3M547.5 632v3M547.5 638v3M547.5 644v3M547.5 650v3M547.5 656v3M547.5 662v3M547.5 668v3M547.5 674v3M547.5 680v3M547.5 686v3M547.5 692v3M547.5 698v3M547.5 704v3M547.5 710v3" stroke="#BDBDBD" stroke-width="1" fill="none"/>
<path d="M579.5 542v3M579.5 548v3M579.5 554v3M579.5 560v3M579.5 566v3M579.5 572v3M579.5 578v3M579.5 584v3M579.5 590v3M579.5 596v3M579.5 602v3M579.5 608v3M579.5 614v3M579.5 620v3M579.5 626v3M579.5 632v3M579.5 638v3M579.5 644v3M579.5 650v3M579.5 656v3M579.5 662v3M579.5 668v3M579.5 674v3M579.5 680v3M579.5 686v3M579.5 692v3M579.5 698v3M579.5 704v3M579.5 710v3" stroke="#BDBDBD" stroke-width="1" fill="none"/>
<path d="M611.5 542v3M611.5 548v3M611.5 554v3M611.5 560v3M611.5 566v3M611.5 572v3M611.5 578v3M611.5 584v3M611.5 590v3M611.5 596v3M611.5 602v3M611.5 608v3M611.5 614v3M611.5 620v3M611.5 626v3M611.5 632v3M611.5 638v3M611.5 644v3M611.5 650v3M611.5 656v3M611.5 662v3M611.5 668v3M611.5 674v3M611.5 680v3M611.5 686v3M611.5 692v3M611.5 698v3M611.5 704v3M611.5 710v3" stroke="#BDBDBD" stroke-width="1" fill="none"/>
<path d="M643.5 542v3M643.5 548v3M643.5 554v3M643.5 560v3M643.5 566v3M643.5 572v3M643.5 578v3M643.5 584v3M643.5 590v3M643.5 596v3M643.5 602v3M643.5 608v3M643.5 614v3M643.5 620v3M643.5 626v3M643.5 632v3M643.5 638v3M643.5 644v3M643.5 650v3M643.5 656v3M643.5 662v3M643.5 668v3M643.5 674v3M643.5 680v3M643.5 686v3M643.5 692v3M643.5 698v3M643.5 704v3M643.5 710v3" stroke="#BDBDBD" stroke-width="1" fill="none"/>
<path d="M4 25.5h3M10 25.5h3M16 25.5h3M22 25.5h3M28 25.5h3M34 25.5h3M40 25.5h3M46 25.5h3M52 25.5h3M58 25.5h3M64 25.5h3M70 25.5h3M76 25.5h3M82 25.5h3M88 25.5h3M94 25.5h3M100 25.5h3M106 25.5h3M112 25.5h3M118 25.5h3M124 25.5h3M130 25.5h3M136 25.5h3M142 25.5h3M148 25.5h3M154 25.5h3M160 25.5h3M166 25.5h3M172 25.5h3M178 25.5h3M184 25.5h3M190 25.5h3M196 25.5h3M202 25.5h3M208 25.5h3M214 25.5h3M220 25.5h3M226 25.5h3M232 25.5h3M238 25.5h3M244 25.5h3M250 25.5h3M256 25.5h3M262 25.5h3M268 25.5h3M274 25.5h3M280 25.5h3M286 25.5h3M292 25.5h3M298 25.5h3M304 25.5h3M310 25.5h3M316 25.5h3M322 25.5h3M328 25.5h3M334 25.5h3M340 25.5h3M346 25.5h3M352 25.5h3M358 25.5h3M364 25.5h3M370 25.5h3M376 25.5h3M382 25.5h3M388 25.5h3M394 25.5h3M400 25.5h3M406 25.5h3M412 25.5h3M418 25.5h3M424 25.5h3M430 25.5h3M436 25.5h3M442 25.5h3M448 25.5h3M454 25.5h3M460 25.5h3M466 25.5h3M472 25.5h3M478 25.5h3M484 25.5h3M490 25.5h3M496 25.5h3M502 25.5h3M508 25.5h3M514 25.5h3M520 25.5h3M526 25.5h3M532 25.5h3M538 25.5h3M544 25.5h3M550 25.5h3M556 25.5h3M562 25.5h3M568 25.5h3M574 25.5h3M580 25.5h3M586 25.5h3M592 25.5h3M598 25.5h3M604 25.5h3M610 25.5h3M616 25.5h3M622 25.5h3M628 25.5h3M634 25.5h3M640 25.5h3M646 25.5h3M652 25.5h3M658 25.5h3M664 25.5h3" stroke="#BDBDBD" stroke-width="1" fill="none"/>
<path d="M4 58.5h3M10 58.5h3M16 58.5h3M22 58.5h3M28 58.5h3M34 58.5h3M40 58.5h3M46 58.5h3M52 58.5h3M58 58.5h3M64 58.5h3M70 58.5h3M76 58.5h3M82 58.5h3M88 58.5h3M94 58.5h3M100 58.5h3M106 58.5h3M112 58.5h3M118 58.5h3M124 58.5h3M130 58.5h3M136 58.5h3M142 58.5h3M148 58.5h3M154 58.5h3M160 58.5h3M166 58.5h3M172 58.5h3M178 58.5h3M184 58.5h3M190 58.5h3M196 58.5h3M202 58.5h3M208 58.5h3M214 58.5h3M220 58.5h3M226 58.5h3M232 58.5h3M238 58.5h3M244 58.5h3M250 58.5h3M256 58.5h3M262 58.5h3M268 58.5h3M274 58.5h3M280 58.5h3M286 58.5h3M292 58.5h3M298 58.5h3M304 58.5h3M310 58.5h3M316 58.5h3M322 58.5h3M328 58.5h3M334 58.5h3M340 58.5h3M346 58.5h3M352 58.5h3M358 58.5h3M364 58.5h3M370 58.5h3M376 58.5h3M382 58.5h3M388 58.5h3M394 58.5h3M400 58.5h3M406 58.5h3M412 58.5h3M418 58.5h3M424 58.5h3M430 58.5h3M436 58.5h3M442 58.5h3M448 58.5h3M454 58.5h3M460 58.5h3M466 58.5h3M472 58.5h3M478 58.5h3M484 58.5h3M490 58.5h3M496 58.5h3M502 58.5h3M508 58.5h3M514 58.5h3M520 58.5h3M526 58.5h3M532 58.5h3M538 58.5h3M544 58.5h3M550 58.5h3M556 58.5h3M562 58.5h3M568 58.5h3M574 58.5h3M580 58.5h3M586 58.5h3M592 58.5h3M598 58.5h3M604 58.5h3M610 58.5h3M616 58.5h3M622 58.5h3M628 58.5h3M634 58.5h3M640 58.5h3M646 58.5h3M652 58.5h3M658 58.5h3M664 58.5h3" stroke="#BDBDBD" stroke-width="1" fill="none"/>
<path d="M4 91.5h3M10 91.5h3M16 91.5h3M22 91.5h3M28 91.5h3M34 91.5h3M40 91.5h3M46 91.5h3M52 91.5h3M58 91.5h3M64 91.5h3M70 91.5h3M76 91.5h3M82 91.5h3M88 91.5h3M94 91.5h3M100 91.5h3M106 91.5h3M112 91.5h3M118 91.5h3M124 91.5h3M130 91.5h3M136 91.5h3M142 91.5h3M148 91.5h3M154 91.5h3M160 91.5h3M166 91.5h3M172 91.5h3M178 91.5h3M184 91.5h3M190 91.5h3M196 91.5h3M202 91.5h3M208 91.5h3M214 91.5h3M220 91.5h3M226 91.5h3M232 91.5h3M238 91.5h3M244 91.5h3M250 91.5h3M256 91.5h3M262 91.5h3M268 91.5h3M274 91.5h3M280 91.5h3M286 91.5h3M292 91.5h3M298 91.5h3M304 91.5h3M310 91.5h3M316 91.5h3M322 91.5h3M328 91.5h3M334 91.5h3M340 91.5h3M346 91.5h3M352 91.5h3M358 91.5h3M364 91.5h3M370 91.5h3M376 91.5h3M382 91.5h3M388 91.5h3M394 91.5h3M400 91.5h3M406 91.5h3M412 91.5h3M418 91.5h3M424 91.5h3M430 91.5h3M436 91.5h3M442 91.5h3M448 91.5h3M454 91.5h3M460 91.5h3M466 91.5h3M472 91.5h3M478 91.5h3M484 91.5h3M490 91.5h3M496 91.5h3M502 91.5h3M508 91.5h3M514 91.5h3M520 91.5h3M526 91.5h3M532 91.5h3M538 91.5h3M544 91.5h3M550 91.5h3M556 91.5h3M562 91.5h3M568 91.5h3M574 91.5h3M580 91.5h3M586 91.5h3M592 91.5h3M598 91.5h3M604 91.5h3M610 91.5h3M616 91.5h3M622 91.5h3M628 91.5h3M634 91.5h3M640 91.5h3M646 91.5h3M652 91.5h3M658 91.5h3M664 91.5h3" stroke="#BDBDBD" stroke-width="1" fill="none"/>
<path d="M4 124.5h3M10 124.5h3M16 124.5h3M22 124.5h3M28 124.5h3M34 124.5h3M40 124.5h3M46 124.5h3M52 124.5h3M58 124.5h3M64 124.5h3M70 124.5h3M76 124.5h3M82 124.5h3M88 124.5h3M94 124.5h3M100 124.5h3M106 124.5h3M112 124.5h3M118 124.5h3M124 124.5h3M130 124.5h3M136 124.5h3M142 124.5h3M148 124.5h3M154 124.5h3M160 124.5h3M166 124.5h3M172 124.5h3M178 124.5h3M184 124.5h3M190 124.5h3M196 124.5h3M202 124.5h3M208 124.5h3M214 124.5h3M220 124.5h3M226 124.5h3M232 124.5h3M238 124.5h3M244 124.5h3M250 124.5h3M256 124.5h3M262 124.5h3M268 124.5h3M274 124.5h3M280 124.5h3M286 124.5h3M292 124.5h3M298 124.5h3M304 124.5h3M310 124.5h3M316 124.5h3M322 124.5h3M328 124.5h3M334 124.5h3M340 124.5h3M346 124.5h3M352 124.5h3M358 124.5h3M364 124.5h3M370 124.5h3M376 124.5h3M382 124.5h3M388 124.5h3M394 124.5h3M400 124.5h3M406 124.5h3M412 124.5h3M418 124.5h3M424 124.5h3M430 124.5h3M436 124.5h3M442 124.5h3M448 124.5h3M454 124.5h3M460 124.5h3M466 124.5h3M472 124.5h3M478 124.5h3M484 124.5h3M490 124.5h3M496 124.5h3M502 124.5h3M508 124.5h3M514 124.5h3M520 124.5h3M526 124.5h3M532 124.5h3M538 124.5h3M544 124.5h3M550 124.5h3M556 124.5h3M562 124.5h3M568 124.5h3M574 124.5h3M580 124.5h3M586 124.5h3M592 124.5h3M598 124.5h3M604 124.5h3M610 124.5h3M616 124.5h3M622 124.5h3M628 124.5h3M634 124.5h3M640 124.5h3M646 124.5h3M652 124.5h3M658 124.5h3M664 124.5h3" stroke="#BDBDBD" stroke-width="1" fill="none"/>
<path d="M4 157.5h3M10 157.5h3M16 157.5h3M22 157.5h3M28 157.5h3M34 157.5h3M40 157.5h3M46 157.5h3M52 157.5h3M58 157.5h3M64 157.5h3M70 157.5h3M76 157.5h3M82 157.5h3M88 157.5h3M94 157.5h3M100 157.5h3M106 157.5h3M112 157.5h3M118 157.5h3M124 157.5h3M130 157.5h3M136 157.5h3M142 157.5h3M148 157.5h3M154 157.5h3M160 157.5h3M166 157.5h3M172 157.5h3M178 157.5h3M184 157.5h3M190 157.5h3M196 157.5h3M202 157.5h3M208 157.5h3M214 157.5h3M220 157.5h3M226 157.5h3M232 157.5h3M238 157.5h3M244 157.5h3M250 157.5h3M256 157.5h3M262 157.5h3M268 157.5h3M274 157.5h3M280 157.5h3M286 157.5h3M292 157.5h3M298 157.5h3M304 157.5h3M310 157.5h3M316 157.5h3M322 157.5h3M328 157.5h3M334 157.5h3M340 157.5h3M346 157.5h3M352 157.5h3M358 157.5h3M364 157.5h3M370 157.5h3M376 157.5h3M382 157.5h3M388 157.5h3M394 157.5h3M400 157.5h3M406 157.5h3M412 157.5h3M418 157.5h3M424 157.5h3M430 157.5h3M436 157.5h3M442 157.5h3M448 157.5h3M454 157.5h3M460 157.5h3M466 157.5h3M472 157.5h3M478 157.5h3M484 157.5h3M490 157.5h3M496 157.5h3M502 157.5h3M508 157.5h3M514 157.5h3M520 157.5h3M526 157.5h3M532 157.5h3M538 157.5h3M544 157.5h3M550 157.5h3M556 157.5h3M562 157.5h3M568 157.5h3M574 157.5h3M580 157.5h3M586 157.5h3M592 157.5h3M598 157.5h3M604 157.5h3M610 157.5h3M616 157.5h3M622 157.5h3M628 157.5h3M634 157.5h3M640 157.5h3M646 157.5h3M652 157.5h3M658 157.5h3M664 157.5h3" stroke="#BDBDBD" stroke-width="1" fill="none"/>
<path d="M4 190.5h3M10 190.5h3M16 190.5h3M22 190.5h3M28 190.5h3M34 190.5h3M40 190.5h3M46 190.5h3M52 190.5h3M58 190.5h3M64 190.5h3M70 190.5h3M76 190.5h3M82 190.5h3M88 190.5h3M94 190.5h3M100 190.5h3M106 190.5h3M112 190.5h3M118 190.5h3M124 190.5h3M130 190.5h3M136 190.5h3M142 190.5h3M148 190.5h3M154 190.5h3M160 190.5h3M166 190.5h3M172 190.5h3M178 190.5h3M184 190.5h3M190 190.5h3M196 190.5h3M202 190.5h3M208 190.5h3M214 190.5h3M220 190.5h3M226 190.5h3M232 190.5h3M238 190.5h3M244 190.5h3M250 190.5h3M256 190.5h3M262 190.5h3M268 190.5h3M274 190.5h3M280 190.5h3M286 190.5h3M292 190.5h3M298 190.5h3M304 190.5h3M310 190.5h3M316 190.5h3M322 190.5h3M328 190.5h3M334 190.5h3M340 190.5h3M346 190.5h3M352 190.5h3M358 190.5h3M364 190.5h3M370 190.5h3M376 190.5h3M382 190.5h3M388 190.5h3M394 190.5h3M400 190.5h3M406 190.5h3M412 190.5h3M418 190.5h3M424 190.5h3M430 190.5h3M436 190.5h3M442 190.5h3M448 190.5h3M454 190.5h3M460 190.5h3M466 190.5h3M472 190.5h3M478 190.5h3M484 190.5h3M490 190.5h3M496 190.5h3M502 190.5h3M508 190.5h3M514 190.5h3M520 190.5h3M526 190.5h3M532 190.5h3M538 190.5h3M544 190.5h3M550 190.5h3M556 190.5h3M562 190.5h3M568 190.5h3M574 190.5h3M580 190.5h3M586 190.5h3M592 190.5h3M598 190.5h3M604 190.5h3M610 190.5h3M616 190.5h3M622 190.5h3M628 190.5h3M634 190.5h3M640 190.5h3M646 190.5h3M652 190.5h3M658 190.5h3M664 190.5h3" stroke="#BDBDBD" stroke-width="1" fill="none"/>
<path d="M4 223.5h3M10 223.5h3M16 223.5h3M22 223.5h3M28 223.5h3M34 223.5h3M40 223.5h3M46 223.5h3M52 223.5h3M58 223.5h3M64 223.5h3M70 223.5h3M76 223.5h3M82 223.5h3M88 223.5h3M94 223.5h3M100 223.5h3M106 223.5h3M112 223.5h3M118 223.5h3M124 223.5h3M130 223.5h3M136 223.5h3M142 223.5h3M148 223.5h3M154 223.5h3M160 223.5h3M166 223.5h3M172 223.5h3M178 223.5h3M184 223.5h3M190 223.5h3M196 223.5h3M202 223.5h3M208 223.5h3M214 223.5h3M220 223.5h3M226 223.5h3M232 223.5h3M238 223.5h3M244 223.5h3M250 223.5h3M256 223.5h3M262 223.5h3M268 223.5h3M274 223.5h3M280 223.5h3M286 223.5h3M292 223.5h3M298 223.5h3M304 223.5h3M310 223.5h3M316 223.5h3M322 223.5h3M328 223.5h3M334 223.5h3M340 223.5h3M346 223.5h3M352 223.5h3M358 223.5h3M364 223.5h3M370 223.5h3M376 223.5h3M382 223.5h3M388 223.5h3M394 223.5h3M400 223.5h3M406 223.5h3M412 223.5h3M418 223.5h3M424 223.5h3M430 223.5h3M436 223.5h3M442 223.5h3M448 223.5h3M454 223.5h3M460 223.5h3M466 223.5h3M472 223.5h3M478 223.5h3M484 223.5h3M490 223.5h3M496 223.5h3M502 223.5h3M508 223.5h3M514 223.5h3M520 223.5h3M526 223.5h3M532 223.5h3M538 223.5h3M544 223.5h3M550 223.5h3M556 223.5h3M562 223.5h3M568 223.5h3M574 223.5h3M580 223.5h3M586 223.5h3M592 223.5h3M598 223.5h3M604 223.5h3M610 223.5h3M616 223.5h3M622 223.5h3M628 223.5h3M634 223.5h3M640 223.5h3M646 223.5h3M652 223.5h3M658 223.5h3M664 223.5h3" stroke="#BDBDBD" stroke-width="1" fill="none"/>
<path d="M4 256.5h3M10 256.5h3M16 256.5h3M22 256.5h3M28 256.5h3M34 256.5h3M40 256.5h3M46 256.5h3M52 256.5h3M58 256.5h3M64 256.5h3M70 256.5h3M76 256.5h3M82 256.5h3M88 256.5h3M94 256.5h3M100 256.5h3M106 256.5h3M112 256.5h3M118 256.5h3M124 256.5h3M130 256.5h3M136 256.5h3M142 256.5h3M148 256.5h3M154 256.5h3M160 256.5h3M166 256.5h3M172 256.5h3M178 256.5h3M184 256.5h3M190 256.5h3M196 256.5h3M202 256.5h3M208 256.5h3M214 256.5h3M220 256.5h3M226 256.5h3M232 256.5h3M238 256.5h3M244 256.5h3M250 256.5h3M256 256.5h3M262 256.5h3M268 256.5h3M274 256.5h3M280 256.5h3M286 256.5h3M292 256.5h3M298 256.5h3M304 256.5h3M310 256.5h3M316 256.5h3M322 256.5h3M328 256.5h3M334 256.5h3M340 256.5h3M346 256.5h3M352 256.5h3M358 256.5h3M364 256.5h3M370 256.5h3M376 256.5h3M382 256.5h3M388 256.5h3M394 256.5h3M400 256.5h3M406 256.5h3M412 256.5h3M418 256.5h3M424 256.5h3M430 256.5h3M436 256.5h3M442 256.5h3M448 256.5h3M454 256.5h3M460 256.5h3M466 256.5h3M472 256.5h3M478 256.5h3M484 256.5h3M490 256.5h3M496 256.5h3M502 256.5h3M508 256.5h3M514 256.5h3M520 256.5h3M526 256.5h3M532 256.5h3M538 256.5h3M544 256.5h3M550 256.5h3M556 256.5h3M562 256.5h3M568 256.5h3M574 256.5h3M580 256.5h3M586 256.5h3M592 256.5h3M598 256.5h3M604 256.5h3M610 256.5h3M616 256.5h3M622 256.5h3M628 256.5h3M634 256.5h3M640 256.5h3M646 256.5h3M652 256.5h3M658 256.5h3M664 256.5h3" stroke="#BDBDBD" stroke-width="1" fill="none"/>
<path d="M4 289.5h3M10 289.5h3M16 289.5h3M22 289.5h3M28 289.5h3M34 289.5h3M40 289.5h3M46 289.5h3M52 289.5h3M58 289.5h3M64 289.5h3M70 289.5h3M76 289.5h3M82 289.5h3M88 289.5h3M94 289.5h3M100 289.5h3M106 289.5h3M112 289.5h3M118 289.5h3M124 289.5h3M130 289.5h3M136 289.5h3M142 289.5h3M148 289.5h3M154 289.5h3M160 289.5h3M166 289.5h3M172 289.5h3M178 289.5h3M184 289.5h3M190 289.5h3M196 289.5h3M202 289.5h3M208 289.5h3M214 289.5h3M220 289.5h3M226 289.5h3M232 289.5h3M238 289.5h3M244 289.5h3M250 289.5h3M256 289.5h3M262 289.5h3M268 289.5h3M274 289.5h3M280 289.5h3M286 289.5h3M292 289.5h3M298 289.5h3M304 289.5h3M310 289.5h3M316 289.5h3M322 289.5h3M328 289.5h3M334 289.5h3M340 289.5h3M346 289.5h3M352 289.5h3M358 289.5h3M364 289.5h3M370 289.5h3M376 289.5h3M382 289.5h3M388 289.5h3M394 289.5h3M400 289.5h3M406 289.5h3M412 289.5h3M418 289.5h3M424 289.5h3M430 289.5h3M436 289.5h3M442 289.5h3M448 289.5h3M454 289.5h3M460 289.5h3M466 289.5h3M472 289.5h3M478 289.5h3M484 289.5h3M490 289.5h3M496 289.5h3M502 289.5h3M508 289.5h3M514 289.5h3M520 289.5h3M526 289.5h3M532 289.5h3M538 289.5h3M544 289.5h3M550 289.5h3M556 289.5h3M562 289.5h3M568 289.5h3M574 289.5h3M580 289.5h3M586 289.5h3M592 289.5h3M598 289.5h3M604 289.5h3M610 289.5h3M616 289.5h3M622 289.5h3M628 289.5h3M634 289.5h3M640 289.5h3M646 289.5h3M652 289.5h3M658 289.5h3M664 289.5h3" stroke="#BDBDBD" stroke-width="1" fill="none"/>
<path d="M4 322.5h3M10 322.5h3M16 322.5h3M22 322.5h3M28 322.5h3M34 322.5h3M40 322.5h3M46 322.5h3M52 322.5h3M58 322.5h3M64 322.5h3M70 322.5h3M76 322.5h3M82 322.5h3M88 322.5h3M94 322.5h3M100 322.5h3M106 322.5h3M112 322.5h3M118 322.5h3M124 322.5h3M130 322.5h3M136 322.5h3M142 322.5h3M148 322.5h3M154 322.5h3M160 322.5h3M166 322.5h3M172 322.5h3M178 322.5h3M184 322.5h3M190 322.5h3M196 322.5h3M202 322.5h3M208 322.5h3M214 322.5h3M220 322.5h3M226 322.5h3M232 322.5h3M238 322.5h3M244 322.5h3M250 322.5h3M256 322.5h3M262 322.5h3M268 322.5h3M274 322.5h3M280 322.5h3M286 322.5h3M292 322.5h3M298 322.5h3M304 322.5h3M310 322.5h3M316 322.5h3M322 322.5h3M328 322.5h3M334 322.5h3M340 322.5h3M346 322.5h3M352 322.5h3M358 322.5h3M364 322.5h3M370 322.5h3M376 322.5h3M382 322.5h3M388 322.5h3M394 322.5h3M400 322.5h3M406 322.5h3M412 322.5h3M418 322.5h3M424 322.5h3M430 322.5h3M436 322.5h3M442 322.5h3M448 322.5h3M454 322.5h3M460 322.5h3M466 322.5h3M472 322.5h3M478 322.5h3M484 322.5h3M490 322.5h3M496 322.5h3M502 322.5h3M508 322.5h3M514 322.5h3M520 322.5h3M526 322.5h3M532 322.5h3M538 322.5h3M544 322.5h3M550 322.5h3M556 322.5h3M562 322.5h3M568 322.5h3M574 322.5h3M580 322.5h3M586 322.5h3M592 322.5h3M598 322.5h3M604 322.5h3M610 322.5h3M616 322.5h3M622 322.5h3M628 322.5h3M634 322.5h3M640 322.5h3M646 322.5h3M652 322.5h3M658 322.5h3M664 322.5h3" stroke="#BDBDBD" stroke-width="1" fill="none"/>
<path d="M4 355.5h3M10 355.5h3M16 355.5h3M22 355.5h3M28 355.5h3M34 355.5h3M40 355.5h3M46 355.5h3M52 355.5h3M58 355.5h3M64 355.5h3M70 355.5h3M76 355.5h3M82 355.5h3M88 355.5h3M94 355.5h3M100 355.5h3M106 355.5h3M112 355.5h3M118 355.5h3M124 355.5h3M130 355.5h3M136 355.5h3M142 355.5h3M148 355.5h3M154 355.5h3M160 355.5h3M166 355.5h3M172 355.5h3M178 355.5h3M184 355.5h3M190 355.5h3M196 355.5h3M202 355.5h3M208 355.5h3M214 355.5h3M220 355.5h3M226 355.5h3M232 355.5h3M238 355.5h3M244 355.5h3M250 355.5h3M256 355.5h3M262 355.5h3M268 355.5h3M274 355.5h3M280 355.5h3M286 355.5h3M292 355.5h3M298 355.5h3M304 355.5h3M310 355.5h3M316 355.5h3M322 355.5h3M328 355.5h3M334 355.5h3M340 355.5h3M346 355.5h3M352 355.5h3M358 355.5h3M364 355.5h3M370 355.5h3M376 355.5h3M382 355.5h3M388 355.5h3M394 355.5h3M400 355.5h3M406 355.5h3M412 355.5h3M418 355.5h3M424 355.5h3M430 355.5h3M436 355.5h3M442 355.5h3M448 355.5h3M454 355.5h3M460 355.5h3M466 355.5h3M472 355.5h3M478 355.5h3M484 355.5h3M490 355.5h3M496 355.5h3M502 355.5h3M508 355.5h3M514 355.5h3M520 355.5h3M526 355.5h3M532 355.5h3M538 355.5h3M544 355.5h3M550 355.5h3M556 355.5h3M562 355.5h3M568 355.5h3M574 355.5h3M580 355.5h3M586 355.5h3M592 355.5h3M598 355.5h3M604 355.5h3M610 355.5h3M616 355.5h3M622 355.5h3M628 355.5h3M634 355.5h3M640 355.5h3M646 355.5h3M652 355.5h3M658 355.5h3M664 355.5h3" stroke="#BDBDBD" stroke-width="1" fill="none"/>
<path d="M4 444.5h3M10 444.5h3M16 444.5h3M22 444.5h3M28 444.5h3M34 444.5h3M40 444.5h3M46 444.5h3M52 444.5h3M58 444.5h3M64 444.5h3M70 444.5h3M76 444.5h3M82 444.5h3M88 444.5h3M94 444.5h3M100 444.5h3M106 444.5h3M112 444.5h3M118 444.5h3M124 444.5h3M130 444.5h3M136 444.5h3M142 444.5h3M148 444.5h3M154 444.5h3M160 444.5h3M166 444.5h3M172 444.5h3M178 444.5h3M184 444.5h3M190 444.5h3M196 444.5h3M202 444.5h3M208 444.5h3M214 444.5h3M220 444.5h3M226 444.5h3M232 444.5h3M238 444.5h3M244 444.5h3M250 444.5h3M256 444.5h3M262 444.5h3M268 444.5h3M274 444.5h3M280 444.5h3M286 444.5h3M292 444.5h3M298 444.5h3M304 444.5h3M310 444.5h3M316 444.5h3M322 444.5h3M328 444.5h3M334 444.5h3M340 444.5h3M346 444.5h3M352 444.5h3M358 444.5h3M364 444.5h3M370 444.5h3M376 444.5h3M382 444.5h3M388 444.5h3M394 444.5h3M400 444.5h3M406 444.5h3M412 444.5h3M418 444.5h3M424 444.5h3M430 444.5h3M436 444.5h3M442 444.5h3M448 444.5h3M454 444.5h3M460 444.5h3M466 444.5h3M472 444.5h3M478 444.5h3M484 444.5h3M490 444.5h3M496 444.5h3M502 444.5h3M508 444.5h3M514 444.5h3M520 444.5h3M526 444.5h3M532 444.5h3M538 444.5h3M544 444.5h3M550 444.5h3M556 444.5h3M562 444.5h3M568 444.5h3M574 444.5h3M580 444.5h3M586 444.5h3M592 444.5h3M598 444.5h3M604 444.5h3M610 444.5h3M616 444.5h3M622 444.5h3M628 444.5h3M634 444.5h3M640 444.5h3M646 444.5h3M652 444.5h3M658 444.5h3M664 444.5h3" stroke="#BDBDBD" stroke-width="1" fill="none"/>
<path d="M4 575.5h3M10 575.5h3M16 575.5h3M22 575.5h3M28 575.5h3M34 575.5h3M40 575.5h3M46 575.5h3M52 575.5h3M58 575.5h3M64 575.5h3M70 575.5h3M76 575.5h3M82 575.5h3M88 575.5h3M94 575.5h3M100 575.5h3M106 575.5h3M112 575.5h3M118 575.5h3M124 575.5h3M130 575.5h3M136 575.5h3M142 575.5h3M148 575.5h3M154 575.5h3M160 575.5h3M166 575.5h3M172 575.5h3M178 575.5h3M184 575.5h3M190 575.5h3M196 575.5h3M202 575.5h3M208 575.5h3M214 575.5h3M220 575.5h3M226 575.5h3M232 575.5h3M238 575.5h3M244 575.5h3M250 575.5h3M256 575.5h3M262 575.5h3M268 575.5h3M274 575.5h3M280 575.5h3M286 575.5h3M292 575.5h3M298 575.5h3M304 575.5h3M310 575.5h3M316 575.5h3M322 575.5h3M328 575.5h3M334 575.5h3M340 575.5h3M346 575.5h3M352 575.5h3M358 575.5h3M364 575.5h3M370 575.5h3M376 575.5h3M382 575.5h3M388 575.5h3M394 575.5h3M400 575.5h3M406 575.5h3M412 575.5h3M418 575.5h3M424 575.5h3M430 575.5h3M436 575.5h3M442 575.5h3M448 575.5h3M454 575.5h3M460 575.5h3M466 575.5h3M472 575.5h3M478 575.5h3M484 575.5h3M490 575.5h3M496 575.5h3M502 575.5h3M508 575.5h3M514 575.5h3M520 575.5h3M526 575.5h3M532 575.5h3M538 575.5h3M544 575.5h3M550 575.5h3M556 575.5h3M562 575.5h3M568 575.5h3M574 575.5h3M580 575.5h3M586 575.5h3M592 575.5h3M598 575.5h3M604 575.5h3M610 575.5h3M616 575.5h3M622 575.5h3M628 575.5h3M634 575.5h3M640 575.5h3M646 575.5h3M652 575.5h3M658 575.5h3M664 575.5h3" stroke="#BDBDBD" stroke-width="1" fill="none"/>
<path d="M4 680.5h3M10 680.5h3M16 680.5h3M22 680.5h3M28 680.5h3M34 680.5h3M40 680.5h3M46 680.5h3M52 680.5h3M58 680.5h3M64 680.5h3M70 680.5h3M76 680.5h3M82 680.5h3M88 680.5h3M94 680.5h3M100 680.5h3M106 680.5h3M112 680.5h3M118 680.5h3M124 680.5h3M130 680.5h3M136 680.5h3M142 680.5h3M148 680.5h3M154 680.5h3M160 680.5h3M166 680.5h3M172 680.5h3M178 680.5h3M184 680.5h3M190 680.5h3M196 680.5h3M202 680.5h3M208 680.5h3M214 680.5h3M220 680.5h3M226 680.5h3M232 680.5h3M238 680.5h3M244 680.5h3M250 680.5h3M256 680.5h3M262 680.5h3M268 680.5h3M274 680.5h3M280 680.5h3M286 680.5h3M292 680.5h3M298 680.5h3M304 680.5h3M310 680.5h3M316 680.5h3M322 680.5h3M328 680.5h3M334 680.5h3M340 680.5h3M346 680.5h3M352 680.5h3M358 680.5h3M364 680.5h3M370 680.5h3M376 680.5h3M382 680.5h3M388 680.5h3M394 680.5h3M400 680.5h3M406 680.5h3M412 680.5h3M418 680.5h3M424 680.5h3M430 680.5h3M436 680.5h3M442 680.5h3M448 680.5h3M454 680.5h3M460 680.5h3M466 680.5h3M472 680.5h3M478 680.5h3M484 680.5h3M490 680.5h3M496 680.5h3M502 680.5h3M508 680.5h3M514 680.5h3M520 680.5h3M526 680.5h3M532 680.5h3M538 680.5h3M544 680.5h3M550 680.5h3M556 680.5h3M562 680.5h3M568 680.5h3M574 680.5h3M580 680.5h3M586 680.5h3M592 680.5h3M598 680.5h3M604 680.5h3M610 680.5h3M616 680.5h3M622 680.5h3M628 680.5h3M634 680.5h3M640 680.5h3M646 680.5h3M652 680.5h3M658 680.5h3M664 680.5h3" stroke="#BDBDBD" stroke-width="1" fill="none"/>
<path d="M4 714.5h3M10 714.5h3M16 714.5h3M22 714.5h3M28 714.5h3M34 714.5h3M40 714.5h3M46 714.5h3M52 714.5h3M58 714.5h3M64 714.5h3M70 714.5h3M76 714.5h3M82 714.5h3M88 714.5h3M94 714.5h3M100 714.5h3M106 714.5h3M112 714.5h3M118 714.5h3M124 714.5h3M130 714.5h3M136 714.5h3M142 714.5h3M148 714.5h3M154 714.5h3M160 714.5h3M166 714.5h3M172 714.5h3M178 714.5h3M184 714.5h3M190 714.5h3M196 714.5h3M202 714.5h3M208 714.5h3M214 714.5h3M220 714.5h3M226 714.5h3M232 714.5h3M238 714.5h3M244 714.5h3M250 714.5h3M256 714.5h3M262 714.5h3M268 714.5h3M274 714.5h3M280 714.5h3M286 714.5h3M292 714.5h3M298 714.5h3M304 714.5h3M310 714.5h3M316 714.5h3M322 714.5h3M328 714.5h3M334 714.5h3M340 714.5h3M346 714.5h3M352 714.5h3M358 714.5h3M364 714.5h3M370 714.5h3M376 714.5h3M382 714.5h3M388 714.5h3M394 714.5h3M400 714.5h3M406 714.5h3M412 714.5h3M418 714.5h3M424 714.5h3M430 714.5h3M436 714.5h3M442 714.5h3M448 714.5h3M454 714.5h3M460 714.5h3M466 714.5h3M472 714.5h3M478 714.5h3M484 714.5h3M490 714.5h3M496 714.5h3M502 714.5h3M508 714.5h3M514 714.5h3M520 714.5h3M526 714.5h3M532 714.5h3M538 714.5h3M544 714.5h3M550 714.5h3M556 714.5h3M562 714.5h3M568 714.5h3M574 714.5h3M580 714.5h3M586 714.5h3M592 714.5h3M598 714.5h3M604 714.5h3M610 714.5h3M616 714.5h3M622 714.5h3M628 714.5h3M634 714.5h3M640 714.5h3M646 714.5h3M652 714.5h3M658 714.5h3M664 714.5h3" stroke="#BDBDBD" stroke-width="1" fill="none"/>
<path d="M3 40.5h9M11 40.5h9M19 40.5h9M27 40.5h4M31 41.5h5M35 41.5h4M39 42.5h5M43 42.5h9M51 42.5h4M55 43.5h5M59 43.5h2M61 44.5h4M65 45.5h3M67 45.5h4M71 46.5h5M75 46.5h2M77 47.5h4M81 48.5h3M83 48.5h4M87 49.5h5M91 49.5h4M95 50.5h5M99 50.5h2M101 51.5h4M105 52.5h3M107 52.5h2M109 53.5h4M113 54.5h3M115 54.5h4M119 55.5h5M123 55.5h2M125 56.5h4M129 57.5h3M131 57.5h4M135 58.5h5M139 58.5h2M141 59.5h4M145 60.5h3M147 60.5h4M151 61.5h5M155 61.5h2M157 62.5h4M161 63.5h3M163 63.5h4M167 64.5h5M171 64.5h2M173 65.5h4M177 66.5h3M179 66.5h2M181 67.5h4M185 68.5h3M187 68.5h2M189 69.5h4M193 70.5h3M195 70.5h2M197 71.5h4M201 72.5h3M203 72.5h4M207 73.5h5M211 73.5h2M213 74.5h4M217 75.5h3M219 75.5h2M221 76.5h4M225 77.5h3M227 77.5h2M229 78.5h4M233 79.5h3M235 79.5h2M237 80.5h4M241 81.5h3M243 81.5h2M245 82.5h4M249 83.5h3M251 83.5h2M253 84.5h4M257 85.5h3M259 85.5h2M261 86.5h4M265 87.5h3M267 87.5h2M269 88.5h2M271 89.5h3M274 90.5h2M275 90.5h2M277 91.5h4M281 92.5h3M283 92.5h2M285 93.5h2M287 94.5h3M290 95.5h2M291 95.5h2M293 96.5h4M297 97.5h3M299 97.5h2M301 98.5h4M305 99.5h3M307 99.5h2M309 100.5h4M313 101.5h3M315 101.5h2M317 102.5h2M319 103.5h3M322 104.5h2M323 104.5h2M325 105.5h4M329 106.5h3M331 106.5h2M333 107.5h4M337 108.5h3M339 108.5h2M341 109.5h2M343 110.5h3M346 111.5h2M347 111.5h2M349 112.5h4M353 113.5h3M355 113.5h2M357 114.5h4M361 115.5h3M363 115.5h2M365 116.5h4M369 117.5h3M371 117.5h2M373 118.5h4M377 119.5h3M379 119.5h2M381 120.5h4M385 121.5h3M387 121.5h2M389 122.5h4M393 123.5h3M395 123.5h2M397 124.5h2M399 125.5h3M402 126.5h2M403 126.5h2M405 127.5h2M407 128.5h3M410 129.5h2M411 129.5h2M413 130.5h2M415 131.5h3M418 132.5h2M419 132.5h2M421 133.5h4M425 134.5h3M427 134.5h2M429 135.5h4M433 136.5h3M435 136.5h2M437 137.5h4M441 138.5h3M443 138.5h2M445 139.5h2M447 140.5h3M450 141.5h2M451 141.5h2M453 142.5h4M457 143.5h3M459 143.5h2M461 144.5h4M465 145.5h3M467 145.5h4M471 146.5h5M475 146.5h2M477 147.5h4M481 148.5h3M483 148.5h2M485 149.5h2M487 150.5h3M490 151.5h2M491 151.5h2M493 152.5h4M497 153.5h3M499 153.5h2M501 154.5h2M503 155.5h3M506 156.5h2M507 156.5h2M509 157.5h2M511 158.5h3M514 159.5h2M515 159.5h2M517 160.5h4M521 161.5h3M523 161.5h2M525 162.5h4M529 163.5h3M531 163.5h4M535 164.5h5M539 164.5h4M543 165.5h5M547 165.5h4M551 166.5h5M555 166.5h9M563 166.5h4M567 167.5h5M571 167.5h9M579 167.5h9" stroke="#0000FF" stroke-width="1" fill="none"/>
<path d="M3 82.5h2M5 83.5h4M9 84.5h3M11 84.5h2M13 85.5h4M17 86.5h3M19 86.5h4M23 87.5h5M27 87.5h2M29 88.5h4M33 89.5h3M35 89.5h4M39 90.5h5M43 90.5h2M45 91.5h4M49 92.5h3M51 92.5h2M53 93.5h4M57 94.5h3M59 94.5h2M61 95.5h2M63 96.5h3M66 97.5h2M67 97.5h2M69 98.5h2M71 99.5h3M74 100.5h2M75 100.5h2M77 101.5h2M79 102.5h3M82 103.5h2M83 103.5h2M85 104.5h2M87 105.5h3M90 106.5h2M91 106.5h2M93 107.5h2M95 108.5h3M98 109.5h2M99 109.5h2M101 110.5h4M105 111.5h3M107 111.5h2M109 112.5h4M113 113.5h3M115 113.5h4M119 114.5h5M123 114.5h2M125 115.5h4M129 116.5h3M131 116.5h4M135 117.5h5M139 117.5h4M143 118.5h5M147 118.5h2M149 119.5h4M153 120.5h3M155 120.5h4M159 121.5h5M163 121.5h2M165 122.5h4M169 123.5h3M171 123.5h2M173 124.5h2M175 125.5h3M178 126.5h2M179 126.5h2M181 127.5h4M185 128.5h3M187 128.5h2M189 129.5h2M191 130.5h3M194 131.5h2M195 131.5h2M197 132.5h4M201 133.5h3M203 133.5h2M205 134.5h2M207 135.5h3M210 136.5h2M211 136.5h2M213 137.5h2M215 138.5h3M218 139.5h2M219 139.5h2M221 140.5h2M223 141.5h3M226 142.5h2M227 142.5h2M229 143.5h2M231 144.5h3M234 145.5h2M235 145.5h2M237 146.5h2M239 147.5h3M242 148.5h2M243 148.5h2M245 149.5h4M249 150.5h3M251 150.5h2M253 151.5h2M255 152.5h3M258 153.5h2M259 153.5h2M261 154.5h4M265 155.5h3M267 155.5h2M269 156.5h4M273 157.5h3M275 157.5h2M277 158.5h4M281 159.5h3M283 159.5h2M285 160.5h4M289 161.5h3M291 161.5h2M293 162.5h2M295 163.5h3M298 164.5h2M299 164.5h2M301 165.5h4M305 166.5h3M307 166.5h1M308 167.5h2M310 168.5h2M312 169.5h2M314 170.5h2M315 170.5h1M316 171.5h2M318 172.5h2M320 173.5h2M322 174.5h2M323 174.5h2M325 175.5h2M327 176.5h3M330 177.5h2M331 177.5h1M332 178.5h2M334 179.5h2M336 180.5h2M338 181.5h2M339 181.5h2M341 182.5h2M343 183.5h3M346 184.5h2M347 184.5h2M349 185.5h2M351 186.5h3M354 187.5h2M355 187.5h4M359 188.5h5M363 188.5h2M365 189.5h4M369 190.5h3M371 190.5h2M373 191.5h4M377 192.5h3M379 192.5h4M383 193.5h5M387 193.5h2M389 194.5h4M393 195.5h3M395 195.5h2M397 196.5h4M401 197.5h3M403 197.5h2M405 198.5h4M409 199.5h3M411 199.5h4M415 200.5h5M419 200.5h4M423 201.5h5M427 201.5h2M429 202.5h4M433 203.5h3M435 203.5h4M439 204.5h5M443 204.5h4M447 205.5h5M451 205.5h9M459 205.5h4M463 206.5h5M467 206.5h2M469 207.5h4M473 208.5h3M475 208.5h4M479 209.5h5M483 209.5h2M485 210.5h4M489 211.5h3M491 211.5h4M495 212.5h5M499 212.5h4M503 213.5h5M507 213.5h4M511 214.5h5M515 214.5h9M523 214.5h9M531 214.5h4M535 215.5h5M539 215.5h9M547 215.5h5M552 214.5h4M555 214.5h9M563 214.5h5M568 213.5h4M571 213.5h9M579 213.5h5M584 212.5h4" stroke="#FF0000" stroke-width="1" fill="none"/>
<path d="M3 133.5h5M8 132.5h4M11 132.5h3M14 131.5h4M18 130.5h2M19 130.5h5M24 129.5h4M27 129.5h9M35 129.5h4M39 130.5h5M43 130.5h4M47 131.5h5M51 131.5h2M53 132.5h4M57 133.5h3M59 133.5h2M61 134.5h4M65 135.5h3M67 135.5h2M69 136.5h4M73 137.5h3M75 137.5h2M77 138.5h4M81 139.5h3M83 139.5h2M85 140.5h4M89 141.5h3M91 141.5h2M93 142.5h4M97 143.5h3M99 143.5h2M101 144.5h4M105 145.5h3M107 145.5h2M109 146.5h4M113 147.5h3M115 147.5h2M117 148.5h4M121 149.5h3M123 149.5h2M125 150.5h4M129 151.5h3M131 151.5h9M139 151.5h9M147 151.5h4M151 152.5h5M155 152.5h4M159 153.5h5M163 153.5h4M167 154.5h5M171 154.5h4M175 155.5h5M179 155.5h2M181 156.5h4M185 157.5h3M187 157.5h2M189 158.5h2M191 159.5h3M194 160.5h2M195 160.5h2M197 161.5h2M199 162.5h3M202 163.5h2M203 163.5h1M204 164.5h2M206 165.5h2M208 166.5h2M210 167.5h2M211 167.5h2M213 168.5h2M215 169.5h3M218 170.5h2M219 170.5h2M221 171.5h2M223 172.5h3M226 173.5h2M227 173.5h2M229 174.5h2M231 175.5h3M234 176.5h2M235 176.5h2M237 177.5h4M241 178.5h3M243 178.5h2M245 179.5h4M249 180.5h3M251 180.5h2M253 181.5h2M255 182.5h3M258 183.5h2M259 183.5h2M261 184.5h2M263 185.5h3M266 186.5h2M267 186.5h2M269 187.5h2M271 188.5h3M274 189.5h2M275 189.5h2M277 190.5h2M279 191.5h3M282 192.5h2M283 192.5h2M285 193.5h2M287 194.5h3M290 195.5h2M291 195.5h2M293 196.5h4M297 197.5h3M299 197.5h2M301 198.5h2M303 199.5h3M306 200.5h2M307 200.5h2M309 201.5h2M311 202.5h3M314 203.5h2M315 203.5h4M319 204.5h5M323 204.5h2M325 205.5h2M327 206.5h3M330 207.5h2M331 207.5h2M333 208.5h4M337 209.5h3M339 209.5h2M341 210.5h4M345 211.5h3M347 211.5h2M349 212.5h4M353 213.5h3M355 213.5h2M357 214.5h4M361 215.5h3M363 215.5h2M365 216.5h4M369 217.5h3M371 217.5h2M373 218.5h4M377 219.5h3M379 219.5h2M381 220.5h4M385 221.5h3M387 221.5h4M391 222.5h5M395 222.5h2M397 223.5h4M401 224.5h3M403 224.5h4M407 225.5h5M411 225.5h2M413 226.5h4M417 227.5h3M419 227.5h2M421 228.5h4M425 229.5h3M427 229.5h2M429 230.5h4M433 231.5h3M435 231.5h2M437 232.5h4M441 233.5h3M443 233.5h2M445 234.5h4M449 235.5h3M451 235.5h2M453 236.5h4M457 237.5h3M459 237.5h2M461 238.5h2M463 239.5h3M466 240.5h2M467 240.5h4M471 241.5h5M475 241.5h2M477 242.5h4M481 243.5h3M483 243.5h2M485 244.5h2M487 245.5h3M490 246.5h2M491 246.5h2M493 247.5h4M497 248.5h3M499 248.5h2M501 249.5h4M505 250.5h3M507 250.5h2M509 251.5h4M513 252.5h3M515 252.5h4M519 253.5h5M523 253.5h5M528 252.5h4M531 252.5h9M539 252.5h9M547 252.5h5M552 251.5h4M555 251.5h5M560 250.5h4M563 250.5h5M568 249.5h4M571 249.5h5M576 248.5h4M579 248.5h5M584 247.5h4" stroke="#00FF7F" stroke-width="1" fill="none"/>
<path d="M3 157.5h9M11 157.5h9M19 157.5h3M22 156.5h4M26 155.5h2M27 155.5h3M30 154.5h4M34 153.5h2M35 153.5h5M40 152.5h4M43 152.5h3M46 151.5h4M50 150.5h2M51 150.5h9M59 150.5h9M67 150.5h2M69 151.5h4M73 152.5h3M75 152.5h9M83 152.5h4M87 153.5h5M91 153.5h9M99 153.5h2M101 154.5h2M103 155.5h3M106 156.5h2M107 156.5h9M115 156.5h9M123 156.5h9M131 156.5h9M139 156.5h9M147 156.5h5M152 155.5h4M155 155.5h5M160 154.5h4M163 154.5h9M171 154.5h4M175 155.5h5M179 155.5h4M183 156.5h5M187 156.5h2M189 157.5h2M191 158.5h3M194 159.5h2M195 159.5h2M197 160.5h4M201 161.5h3M203 161.5h2M205 162.5h2M207 163.5h3M210 164.5h2M211 164.5h1M212 165.5h2M214 166.5h1M215 167.5h2M217 168.5h2M219 169.5h1M219 169.5h1M220 170.5h2M222 171.5h1M223 172.5h2M225 173.5h2M227 174.5h1M227 174.5h1M228 175.5h2M230 176.5h1M231 177.5h2M233 178.5h2M235 179.5h1M235 179.5h1M236 180.5h2M238 181.5h2M240 182.5h2M242 183.5h2M243 183.5h2M245 184.5h2M247 185.5h3M250 186.5h2M251 186.5h2M253 187.5h2M255 188.5h3M258 189.5h2M259 189.5h1M260 190.5h2M262 191.5h1M263 192.5h2M265 193.5h2M267 194.5h1M267 194.5h1M268 195.5h2M270 196.5h2M272 197.5h2M274 198.5h2M275 198.5h1M276 199.5h1M277 200.5h1M278 201.5h1M279 202.5h2M281 203.5h1M282 204.5h1M283 205.5h1M283 205.5h1M284 206.5h1M285 207.5h2M287 208.5h1M288 209.5h1M289 210.5h2M291 211.5h1M291 211.5h1M292 212.5h1M293 213.5h1M294 214.5h1M295 215.5h1M296 216.5h1M297 217.5h1M298 218.5h1M299 219.5h1M299 219.5h1M300 220.5h1M301 221.5h1M302 222.5h1M303 223.5h1M304 224.5h1M305 225.5h1M306 226.5h1M307 227.5h1M307 227.5h1M308 228.5h1M309 229.5h1M310 230.5h1M311 231.5h1M312 232.5h1M313 233.5h1M314 234.5h1M315 235.5h1M315 235.5h1M316 236.5h1M317 237.5h1M318 238.5h1M319 239.5h2M321 240.5h1M322 241.5h1M323 242.5h1M323 242.5h1M324 243.5h1M325 244.5h1M326 245.5h1M327 246.5h2M329 247.5h1M330 248.5h1M331 249.5h1M331 249.5h1M332 250.5h1M333 251.5h2M335 252.5h1M336 253.5h1M337 254.5h2M339 255.5h1M339 255.5h1M340 256.5h2M342 257.5h2M344 258.5h2M346 259.5h2M347 259.5h1M348 260.5h2M350 261.5h1M351 262.5h2M353 263.5h2M355 264.5h1M355 264.5h2M357 265.5h4M361 266.5h3M363 266.5h2M365 267.5h4M369 268.5h3M371 268.5h2M373 269.5h4M377 270.5h3M379 270.5h2M381 271.5h4M385 272.5h3M387 272.5h2M389 273.5h2M391 274.5h3M394 275.5h2M395 275.5h2M397 276.5h4M401 277.5h3M403 277.5h2M405 278.5h4M409 279.5h3M411 279.5h2M413 280.5h4M417 281.5h3M419 281.5h4M423 282.5h5M427 282.5h4M431 283.5h5M435 283.5h2M437 284.5h4M441 285.5h3M443 285.5h5M448 284.5h4M451 284.5h9M459 284.5h3M462 283.5h4M466 282.5h2M467 282.5h5M472 281.5h4M475 281.5h3M478 280.5h4M482 279.5h2M483 279.5h2M485 278.5h3M488 277.5h2M490 276.5h2M491 276.5h3M494 275.5h4M498 274.5h2M499 274.5h3M502 273.5h4M506 272.5h2M507 272.5h3M510 271.5h4M514 270.5h2M515 270.5h3M518 269.5h4M522 268.5h2M523 268.5h2M525 267.5h3M528 266.5h2M530 265.5h2M531 265.5h3M534 264.5h4M538 263.5h2M539 263.5h1M540 262.5h2M542 261.5h2M544 260.5h1M545 259.5h2M547 258.5h1M547 258.5h1M548 257.5h1M549 256.5h1M550 255.5h2M552 254.5h1M553 253.5h1M554 252.5h1M555 251.5h1M555 251.5h1M556 250.5h2M558 249.5h1M559 248.5h1M560 247.5h2M562 246.5h1M563 245.5h1M563 245.5h1M564 244.5h1M565 243.5h1M566 242.5h2M568 241.5h1M569 240.5h1M570 239.5h1M571 238.5h1M571 238.5h1M572 237.5h2M574 236.5h1M575 235.5h1M576 234.5h2M578 233.5h1M579 232.5h1M579 232.5h2M581 231.5h2M583 230.5h2M585 229.5h2M587 228.5h1" stroke="#000000" stroke-width="1" fill="none"/>
<rect x="3" y="131" width="665" height="1" fill="#C0C0C0"/>
<rect x="3" y="20" width="665" height="1" fill="#fff"/>
<path d="M3 20.5h18M27 20.5h18M51 20.5h18M75 20.5h18M99 20.5h18M123 20.5h18M147 20.5h18M171 20.5h18M195 20.5h18M219 20.5h18M243 20.5h18M267 20.5h18M291 20.5h18M315 20.5h18M339 20.5h18M363 20.5h18M387 20.5h18M411 20.5h18M435 20.5h18M459 20.5h18M483 20.5h18M507 20.5h18M531 20.5h18M555 20.5h18M579 20.5h18M603 20.5h18M627 20.5h18M651 20.5h17" stroke="#90EE90" stroke-width="1" fill="none"/>
<rect x="3" y="73" width="665" height="1" fill="#fff"/>
<path d="M3 73.5h18M27 73.5h18M51 73.5h18M75 73.5h18M99 73.5h18M123 73.5h18M147 73.5h18M171 73.5h18M195 73.5h18M219 73.5h18M243 73.5h18M267 73.5h18M291 73.5h18M315 73.5h18M339 73.5h18M363 73.5h18M387 73.5h18M411 73.5h18M435 73.5h18M459 73.5h18M483 73.5h18M507 73.5h18M531 73.5h18M555 73.5h18M579 73.5h18M603 73.5h18M627 73.5h18M651 73.5h17" stroke="#90EE90" stroke-width="1" fill="none"/>
<rect x="3" y="89" width="665" height="1" fill="#fff"/>
<path d="M3 89.5h18M27 89.5h18M51 89.5h18M75 89.5h18M99 89.5h18M123 89.5h18M147 89.5h18M171 89.5h18M195 89.5h18M219 89.5h18M243 89.5h18M267 89.5h18M291 89.5h18M315 89.5h18M339 89.5h18M363 89.5h18M387 89.5h18M411 89.5h18M435 89.5h18M459 89.5h18M483 89.5h18M507 89.5h18M531 89.5h18M555 89.5h18M579 89.5h18M603 89.5h18M627 89.5h18M651 89.5h17" stroke="#90EE90" stroke-width="1" fill="none"/>
<rect x="3" y="105" width="665" height="1" fill="#fff"/>
<path d="M3 105.5h18M27 105.5h18M51 105.5h18M75 105.5h18M99 105.5h18M123 105.5h18M147 105.5h18M171 105.5h18M195 105.5h18M219 105.5h18M243 105.5h18M267 105.5h18M291 105.5h18M315 105.5h18M339 105.5h18M363 105.5h18M387 105.5h18M411 105.5h18M435 105.5h18M459 105.5h18M483 105.5h18M507 105.5h18M531 105.5h18M555 105.5h18M579 105.5h18M603 105.5h18M627 105.5h18M651 105.5h17" stroke="#90EE90" stroke-width="1" fill="none"/>
<rect x="3" y="132" width="665" height="1" fill="#fff"/>
<path d="M3 132.5h18M27 132.5h18M51 132.5h18M75 132.5h18M99 132.5h18M123 132.5h18M147 132.5h18M171 132.5h18M195 132.5h18M219 132.5h18M243 132.5h18M267 132.5h18M291 132.5h18M315 132.5h18M339 132.5h18M363 132.5h18M387 132.5h18M411 132.5h18M435 132.5h18M459 132.5h18M483 132.5h18M507 132.5h18M531 132.5h18M555 132.5h18M579 132.5h18M603 132.5h18M627 132.5h18M651 132.5h17" stroke="#90EE90" stroke-width="1" fill="none"/>
<rect x="3" y="154" width="665" height="1" fill="#fff"/>
<path d="M3 154.5h18M27 154.5h18M51 154.5h18M75 154.5h18M99 154.5h18M123 154.5h18M147 154.5h18M171 154.5h18M195 154.5h18M219 154.5h18M243 154.5h18M267 154.5h18M291 154.5h18M315 154.5h18M339 154.5h18M363 154.5h18M387 154.5h18M411 154.5h18M435 154.5h18M459 154.5h18M483 154.5h18M507 154.5h18M531 154.5h18M555 154.5h18M579 154.5h18M603 154.5h18M627 154.5h18M651 154.5h17" stroke="#90EE90" stroke-width="1" fill="none"/>
<rect x="3" y="182" width="665" height="1" fill="#fff"/>
<path d="M3 182.5h18M27 182.5h18M51 182.5h18M75 182.5h18M99 182.5h18M123 182.5h18M147 182.5h18M171 182.5h18M195 182.5h18M219 182.5h18M243 182.5h18M267 182.5h18M291 182.5h18M315 182.5h18M339 182.5h18M363 182.5h18M387 182.5h18M411 182.5h18M435 182.5h18M459 182.5h18M483 182.5h18M507 182.5h18M531 182.5h18M555 182.5h18M579 182.5h18M603 182.5h18M627 182.5h18M651 182.5h17" stroke="#90EE90" stroke-width="1" fill="none"/>
<rect x="3" y="200" width="665" height="1" fill="#fff"/>
<path d="M3 200.5h18M27 200.5h18M51 200.5h18M75 200.5h18M99 200.5h18M123 200.5h18M147 200.5h18M171 200.5h18M195 200.5h18M219 200.5h18M243 200.5h18M267 200.5h18M291 200.5h18M315 200.5h18M339 200.5h18M363 200.5h18M387 200.5h18M411 200.5h18M435 200.5h18M459 200.5h18M483 200.5h18M507 200.5h18M531 200.5h18M555 200.5h18M579 200.5h18M603 200.5h18M627 200.5h18M651 200.5h17" stroke="#90EE90" stroke-width="1" fill="none"/>
<rect x="3" y="227" width="665" height="1" fill="#fff"/>
<path d="M3 227.5h18M27 227.5h18M51 227.5h18M75 227.5h18M99 227.5h18M123 227.5h18M147 227.5h18M171 227.5h18M195 227.5h18M219 227.5h18M243 227.5h18M267 227.5h18M291 227.5h18M315 227.5h18M339 227.5h18M363 227.5h18M387 227.5h18M411 227.5h18M435 227.5h18M459 227.5h18M483 227.5h18M507 227.5h18M531 227.5h18M555 227.5h18M579 227.5h18M603 227.5h18M627 227.5h18M651 227.5h17" stroke="#90EE90" stroke-width="1" fill="none"/>
<rect x="3" y="255" width="665" height="1" fill="#fff"/>
<path d="M3 255.5h18M27 255.5h18M51 255.5h18M75 255.5h18M99 255.5h18M123 255.5h18M147 255.5h18M171 255.5h18M195 255.5h18M219 255.5h18M243 255.5h18M267 255.5h18M291 255.5h18M315 255.5h18M339 255.5h18M363 255.5h18M387 255.5h18M411 255.5h18M435 255.5h18M459 255.5h18M483 255.5h18M507 255.5h18M531 255.5h18M555 255.5h18M579 255.5h18M603 255.5h18M627 255.5h18M651 255.5h17" stroke="#90EE90" stroke-width="1" fill="none"/>
<rect x="3" y="273" width="665" height="1" fill="#fff"/>
<path d="M3 273.5h18M27 273.5h18M51 273.5h18M75 273.5h18M99 273.5h18M123 273.5h18M147 273.5h18M171 273.5h18M195 273.5h18M219 273.5h18M243 273.5h18M267 273.5h18M291 273.5h18M315 273.5h18M339 273.5h18M363 273.5h18M387 273.5h18M411 273.5h18M435 273.5h18M459 273.5h18M483 273.5h18M507 273.5h18M531 273.5h18M555 273.5h18M579 273.5h18M603 273.5h18M627 273.5h18M651 273.5h17" stroke="#90EE90" stroke-width="1" fill="none"/>
<rect x="3" y="299" width="665" height="1" fill="#fff"/>
<path d="M3 299.5h18M27 299.5h18M51 299.5h18M75 299.5h18M99 299.5h18M123 299.5h18M147 299.5h18M171 299.5h18M195 299.5h18M219 299.5h18M243 299.5h18M267 299.5h18M291 299.5h18M315 299.5h18M339 299.5h18M363 299.5h18M387 299.5h18M411 299.5h18M435 299.5h18M459 299.5h18M483 299.5h18M507 299.5h18M531 299.5h18M555 299.5h18M579 299.5h18M603 299.5h18M627 299.5h18M651 299.5h17" stroke="#90EE90" stroke-width="1" fill="none"/>
<rect x="3" y="311" width="665" height="1" fill="#fff"/>
<path d="M3 311.5h18M27 311.5h18M51 311.5h18M75 311.5h18M99 311.5h18M123 311.5h18M147 311.5h18M171 311.5h18M195 311.5h18M219 311.5h18M243 311.5h18M267 311.5h18M291 311.5h18M315 311.5h18M339 311.5h18M363 311.5h18M387 311.5h18M411 311.5h18M435 311.5h18M459 311.5h18M483 311.5h18M507 311.5h18M531 311.5h18M555 311.5h18M579 311.5h18M603 311.5h18M627 311.5h18M651 311.5h17" stroke="#90EE90" stroke-width="1" fill="none"/>
<rect x="3" y="334" width="665" height="1" fill="#fff"/>
<path d="M3 334.5h18M27 334.5h18M51 334.5h18M75 334.5h18M99 334.5h18M123 334.5h18M147 334.5h18M171 334.5h18M195 334.5h18M219 334.5h18M243 334.5h18M267 334.5h18M291 334.5h18M315 334.5h18M339 334.5h18M363 334.5h18M387 334.5h18M411 334.5h18M435 334.5h18M459 334.5h18M483 334.5h18M507 334.5h18M531 334.5h18M555 334.5h18M579 334.5h18M603 334.5h18M627 334.5h18M651 334.5h17" stroke="#90EE90" stroke-width="1" fill="none"/>
<rect x="3" y="350" width="665" height="1" fill="#fff"/>
<path d="M3 350.5h18M27 350.5h18M51 350.5h18M75 350.5h18M99 350.5h18M123 350.5h18M147 350.5h18M171 350.5h18M195 350.5h18M219 350.5h18M243 350.5h18M267 350.5h18M291 350.5h18M315 350.5h18M339 350.5h18M363 350.5h18M387 350.5h18M411 350.5h18M435 350.5h18M459 350.5h18M483 350.5h18M507 350.5h18M531 350.5h18M555 350.5h18M579 350.5h18M603 350.5h18M627 350.5h18M651 350.5h17" stroke="#90EE90" stroke-width="1" fill="none"/>
<rect x="3" y="36" width="667" height="3" fill="#008080"/>
<rect x="3" y="343" width="667" height="3" fill="#008080"/>
<rect x="547" y="104" width="57" height="3" fill="#FF0000"/>
<rect x="546" y="105" width="59" height="1" fill="#FF0000"/>
<rect x="459" y="181" width="97" height="3" fill="#32CD32"/>
<rect x="458" y="182" width="99" height="1" fill="#32CD32"/>
<rect x="451" y="254" width="64" height="3" fill="#0000FF"/>
<rect x="450" y="255" width="66" height="1" fill="#0000FF"/>
<rect x="3" y="128" width="1" height="43" fill="#000"/>
<rect x="3" y="136" width="3" height="30" fill="#000"/>
<rect x="3" y="137" width="2" height="28" fill="#fff"/>
<rect x="11" y="111" width="1" height="27" fill="#000"/>
<rect x="9" y="116" width="5" height="21" fill="#000"/>
<rect x="10" y="117" width="3" height="19" fill="#fff"/>
<rect x="19" y="87" width="1" height="45" fill="#000"/>
<rect x="17" y="103" width="5" height="14" fill="#000"/>
<rect x="18" y="104" width="3" height="12" fill="#fff"/>
<rect x="27" y="20" width="1" height="88" fill="#000"/>
<rect x="25" y="35" width="5" height="69" fill="#000"/>
<rect x="26" y="36" width="3" height="67" fill="#fff"/>
<rect x="35" y="27" width="1" height="67" fill="#000"/>
<rect x="33" y="36" width="5" height="56" fill="#000"/>
<rect x="43" y="65" width="1" height="34" fill="#000"/>
<rect x="41" y="72" width="5" height="20" fill="#000"/>
<rect x="42" y="73" width="3" height="18" fill="#fff"/>
<rect x="51" y="78" width="1" height="43" fill="#000"/>
<rect x="49" y="86" width="5" height="34" fill="#000"/>
<rect x="50" y="87" width="3" height="32" fill="#fff"/>
<rect x="59" y="72" width="1" height="35" fill="#000"/>
<rect x="57" y="86" width="5" height="2" fill="#000"/>
<rect x="67" y="36" width="1" height="116" fill="#000"/>
<rect x="65" y="87" width="5" height="59" fill="#000"/>
<rect x="75" y="127" width="1" height="36" fill="#000"/>
<rect x="73" y="145" width="5" height="3" fill="#000"/>
<rect x="83" y="146" width="1" height="45" fill="#000"/>
<rect x="81" y="146" width="5" height="33" fill="#000"/>
<rect x="91" y="176" width="1" height="23" fill="#000"/>
<rect x="89" y="178" width="5" height="17" fill="#000"/>
<rect x="99" y="187" width="1" height="30" fill="#000"/>
<rect x="97" y="194" width="5" height="13" fill="#000"/>
<rect x="107" y="185" width="1" height="23" fill="#000"/>
<rect x="105" y="193" width="5" height="14" fill="#000"/>
<rect x="106" y="194" width="3" height="12" fill="#fff"/>
<rect x="115" y="164" width="1" height="60" fill="#000"/>
<rect x="113" y="173" width="5" height="21" fill="#000"/>
<rect x="114" y="174" width="3" height="19" fill="#fff"/>
<rect x="123" y="127" width="1" height="57" fill="#000"/>
<rect x="121" y="151" width="5" height="23" fill="#000"/>
<rect x="122" y="152" width="3" height="21" fill="#fff"/>
<rect x="131" y="142" width="1" height="59" fill="#000"/>
<rect x="129" y="151" width="5" height="36" fill="#000"/>
<rect x="139" y="182" width="1" height="13" fill="#000"/>
<rect x="137" y="187" width="5" height="2" fill="#000"/>
<rect x="147" y="181" width="1" height="22" fill="#000"/>
<rect x="145" y="188" width="5" height="11" fill="#000"/>
<rect x="155" y="189" width="1" height="11" fill="#000"/>
<rect x="153" y="194" width="5" height="5" fill="#000"/>
<rect x="154" y="195" width="3" height="3" fill="#fff"/>
<rect x="163" y="166" width="1" height="40" fill="#000"/>
<rect x="161" y="172" width="5" height="23" fill="#000"/>
<rect x="162" y="173" width="3" height="21" fill="#fff"/>
<rect x="171" y="168" width="1" height="51" fill="#000"/>
<rect x="169" y="173" width="5" height="45" fill="#000"/>
<rect x="179" y="216" width="1" height="33" fill="#000"/>
<rect x="177" y="217" width="5" height="21" fill="#000"/>
<rect x="187" y="231" width="1" height="22" fill="#000"/>
<rect x="185" y="236" width="5" height="3" fill="#000"/>
<rect x="186" y="237" width="3" height="1" fill="#fff"/>
<rect x="195" y="225" width="1" height="27" fill="#000"/>
<rect x="193" y="238" width="5" height="10" fill="#000"/>
<rect x="203" y="245" width="1" height="22" fill="#000"/>
<rect x="201" y="247" width="5" height="5" fill="#000"/>
<rect x="211" y="236" width="1" height="44" fill="#000"/>
<rect x="209" y="251" width="5" height="23" fill="#000"/>
<rect x="219" y="264" width="1" height="49" fill="#000"/>
<rect x="217" y="273" width="5" height="39" fill="#000"/>
<rect x="227" y="255" width="1" height="58" fill="#000"/>
<rect x="225" y="295" width="5" height="17" fill="#000"/>
<rect x="226" y="296" width="3" height="15" fill="#fff"/>
<rect x="235" y="281" width="1" height="17" fill="#000"/>
<rect x="233" y="295" width="5" height="2" fill="#000"/>
<rect x="243" y="286" width="1" height="13" fill="#000"/>
<rect x="241" y="293" width="5" height="4" fill="#000"/>
<rect x="242" y="294" width="3" height="2" fill="#fff"/>
<rect x="251" y="273" width="1" height="22" fill="#000"/>
<rect x="249" y="280" width="5" height="14" fill="#000"/>
<rect x="250" y="281" width="3" height="12" fill="#fff"/>
<rect x="259" y="270" width="1" height="24" fill="#000"/>
<rect x="257" y="280" width="5" height="5" fill="#000"/>
<rect x="267" y="278" width="1" height="30" fill="#000"/>
<rect x="265" y="284" width="5" height="21" fill="#000"/>
<rect x="275" y="299" width="1" height="25" fill="#000"/>
<rect x="273" y="304" width="5" height="8" fill="#000"/>
<rect x="283" y="310" width="1" height="25" fill="#000"/>
<rect x="281" y="311" width="5" height="23" fill="#000"/>
<rect x="291" y="321" width="1" height="14" fill="#000"/>
<rect x="289" y="330" width="5" height="3" fill="#000"/>
<rect x="290" y="331" width="3" height="1" fill="#fff"/>
<rect x="299" y="328" width="1" height="13" fill="#000"/>
<rect x="297" y="330" width="5" height="4" fill="#000"/>
<rect x="307" y="304" width="1" height="34" fill="#000"/>
<rect x="305" y="316" width="5" height="18" fill="#000"/>
<rect x="306" y="317" width="3" height="16" fill="#fff"/>
<rect x="315" y="309" width="1" height="28" fill="#000"/>
<rect x="313" y="316" width="5" height="4" fill="#000"/>
<rect x="323" y="300" width="1" height="32" fill="#000"/>
<rect x="321" y="319" width="5" height="5" fill="#000"/>
<rect x="331" y="319" width="1" height="31" fill="#000"/>
<rect x="329" y="323" width="5" height="14" fill="#000"/>
<rect x="339" y="328" width="1" height="13" fill="#000"/>
<rect x="337" y="335" width="5" height="2" fill="#000"/>
<rect x="347" y="328" width="1" height="19" fill="#000"/>
<rect x="345" y="335" width="5" height="11" fill="#000"/>
<rect x="355" y="305" width="1" height="43" fill="#000"/>
<rect x="353" y="312" width="5" height="33" fill="#000"/>
<rect x="354" y="313" width="3" height="31" fill="#fff"/>
<rect x="363" y="293" width="1" height="30" fill="#000"/>
<rect x="361" y="310" width="5" height="3" fill="#000"/>
<rect x="362" y="311" width="3" height="1" fill="#fff"/>
<rect x="371" y="226" width="1" height="85" fill="#000"/>
<rect x="369" y="228" width="5" height="83" fill="#000"/>
<rect x="370" y="229" width="3" height="81" fill="#fff"/>
<rect x="379" y="219" width="1" height="31" fill="#000"/>
<rect x="377" y="228" width="5" height="21" fill="#000"/>
<rect x="387" y="232" width="1" height="19" fill="#000"/>
<rect x="385" y="237" width="5" height="12" fill="#000"/>
<rect x="386" y="238" width="3" height="10" fill="#fff"/>
<rect x="395" y="227" width="1" height="30" fill="#000"/>
<rect x="393" y="237" width="5" height="4" fill="#000"/>
<rect x="403" y="222" width="1" height="35" fill="#000"/>
<rect x="401" y="240" width="5" height="6" fill="#000"/>
<rect x="411" y="235" width="1" height="48" fill="#000"/>
<rect x="409" y="245" width="5" height="28" fill="#000"/>
<rect x="419" y="262" width="1" height="39" fill="#000"/>
<rect x="417" y="272" width="5" height="2" fill="#000"/>
<rect x="427" y="251" width="1" height="30" fill="#000"/>
<rect x="425" y="253" width="5" height="21" fill="#000"/>
<rect x="426" y="254" width="3" height="19" fill="#fff"/>
<rect x="435" y="248" width="1" height="11" fill="#000"/>
<rect x="433" y="249" width="5" height="5" fill="#000"/>
<rect x="434" y="250" width="3" height="3" fill="#fff"/>
<rect x="443" y="231" width="1" height="20" fill="#000"/>
<rect x="441" y="240" width="5" height="10" fill="#000"/>
<rect x="442" y="241" width="3" height="8" fill="#fff"/>
<rect x="451" y="191" width="1" height="67" fill="#000"/>
<rect x="449" y="202" width="5" height="39" fill="#000"/>
<rect x="450" y="203" width="3" height="37" fill="#fff"/>
<rect x="459" y="180" width="1" height="50" fill="#000"/>
<rect x="457" y="202" width="5" height="22" fill="#000"/>
<rect x="467" y="195" width="1" height="40" fill="#000"/>
<rect x="465" y="201" width="5" height="23" fill="#000"/>
<rect x="466" y="202" width="3" height="21" fill="#fff"/>
<rect x="475" y="182" width="1" height="29" fill="#000"/>
<rect x="473" y="201" width="5" height="8" fill="#000"/>
<rect x="483" y="200" width="1" height="12" fill="#000"/>
<rect x="481" y="204" width="5" height="4" fill="#000"/>
<rect x="482" y="205" width="3" height="2" fill="#fff"/>
<rect x="491" y="201" width="1" height="23" fill="#000"/>
<rect x="489" y="204" width="5" height="16" fill="#000"/>
<rect x="499" y="198" width="1" height="54" fill="#000"/>
<rect x="497" y="219" width="5" height="26" fill="#000"/>
<rect x="507" y="227" width="1" height="30" fill="#000"/>
<rect x="505" y="241" width="5" height="4" fill="#000"/>
<rect x="506" y="242" width="3" height="2" fill="#fff"/>
<rect x="515" y="201" width="1" height="44" fill="#000"/>
<rect x="513" y="213" width="5" height="29" fill="#000"/>
<rect x="514" y="214" width="3" height="27" fill="#fff"/>
<rect x="523" y="207" width="1" height="11" fill="#000"/>
<rect x="521" y="207" width="5" height="7" fill="#000"/>
<rect x="522" y="208" width="3" height="5" fill="#fff"/>
<rect x="531" y="202" width="1" height="19" fill="#000"/>
<rect x="529" y="204" width="5" height="6" fill="#000"/>
<rect x="530" y="205" width="3" height="4" fill="#fff"/>
<rect x="539" y="183" width="1" height="26" fill="#000"/>
<rect x="537" y="191" width="5" height="14" fill="#000"/>
<rect x="538" y="192" width="3" height="12" fill="#fff"/>
<rect x="547" y="103" width="1" height="92" fill="#000"/>
<rect x="545" y="132" width="5" height="60" fill="#000"/>
<rect x="546" y="133" width="3" height="58" fill="#fff"/>
<rect x="555" y="125" width="1" height="31" fill="#000"/>
<rect x="553" y="132" width="5" height="7" fill="#000"/>
<rect x="563" y="90" width="1" height="54" fill="#000"/>
<rect x="561" y="104" width="5" height="35" fill="#000"/>
<rect x="562" y="105" width="3" height="33" fill="#fff"/>
<rect x="571" y="100" width="1" height="26" fill="#000"/>
<rect x="569" y="104" width="5" height="21" fill="#000"/>
<rect x="579" y="115" width="1" height="13" fill="#000"/>
<rect x="577" y="116" width="5" height="8" fill="#000"/>
<rect x="578" y="117" width="3" height="6" fill="#fff"/>
<rect x="587" y="114" width="1" height="22" fill="#000"/>
<rect x="585" y="116" width="5" height="16" fill="#000"/>
<rect x="3" y="444" width="1" height="9" fill="#C0C0C0"/>
<rect x="19" y="437" width="1" height="8" fill="#C0C0C0"/>
<rect x="27" y="418" width="1" height="27" fill="#C0C0C0"/>
<rect x="35" y="414" width="1" height="31" fill="#C0C0C0"/>
<rect x="43" y="408" width="1" height="37" fill="#C0C0C0"/>
<rect x="51" y="405" width="1" height="40" fill="#C0C0C0"/>
<rect x="59" y="404" width="1" height="41" fill="#C0C0C0"/>
<rect x="67" y="414" width="1" height="31" fill="#C0C0C0"/>
<rect x="75" y="422" width="1" height="23" fill="#C0C0C0"/>
<rect x="83" y="434" width="1" height="11" fill="#C0C0C0"/>
<rect x="99" y="444" width="1" height="12" fill="#C0C0C0"/>
<rect x="107" y="444" width="1" height="19" fill="#C0C0C0"/>
<rect x="115" y="444" width="1" height="21" fill="#C0C0C0"/>
<rect x="123" y="444" width="1" height="18" fill="#C0C0C0"/>
<rect x="131" y="444" width="1" height="23" fill="#C0C0C0"/>
<rect x="139" y="444" width="1" height="25" fill="#C0C0C0"/>
<rect x="147" y="444" width="1" height="28" fill="#C0C0C0"/>
<rect x="155" y="444" width="1" height="30" fill="#C0C0C0"/>
<rect x="163" y="444" width="1" height="31" fill="#C0C0C0"/>
<rect x="171" y="444" width="1" height="33" fill="#C0C0C0"/>
<rect x="179" y="444" width="1" height="40" fill="#C0C0C0"/>
<rect x="187" y="444" width="1" height="45" fill="#C0C0C0"/>
<rect x="195" y="444" width="1" height="53" fill="#C0C0C0"/>
<rect x="203" y="444" width="1" height="55" fill="#C0C0C0"/>
<rect x="211" y="444" width="1" height="61" fill="#C0C0C0"/>
<rect x="219" y="444" width="1" height="72" fill="#C0C0C0"/>
<rect x="227" y="444" width="1" height="78" fill="#C0C0C0"/>
<rect x="235" y="444" width="1" height="80" fill="#C0C0C0"/>
<rect x="243" y="444" width="1" height="81" fill="#C0C0C0"/>
<rect x="251" y="444" width="1" height="79" fill="#C0C0C0"/>
<rect x="259" y="444" width="1" height="78" fill="#C0C0C0"/>
<rect x="267" y="444" width="1" height="78" fill="#C0C0C0"/>
<rect x="275" y="444" width="1" height="80" fill="#C0C0C0"/>
<rect x="283" y="444" width="1" height="83" fill="#C0C0C0"/>
<rect x="291" y="444" width="1" height="85" fill="#C0C0C0"/>
<rect x="299" y="444" width="1" height="84" fill="#C0C0C0"/>
<rect x="307" y="444" width="1" height="82" fill="#C0C0C0"/>
<rect x="315" y="444" width="1" height="79" fill="#C0C0C0"/>
<rect x="323" y="444" width="1" height="78" fill="#C0C0C0"/>
<rect x="331" y="444" width="1" height="75" fill="#C0C0C0"/>
<rect x="339" y="444" width="1" height="74" fill="#C0C0C0"/>
<rect x="347" y="444" width="1" height="74" fill="#C0C0C0"/>
<rect x="355" y="444" width="1" height="68" fill="#C0C0C0"/>
<rect x="363" y="444" width="1" height="60" fill="#C0C0C0"/>
<rect x="371" y="444" width="1" height="41" fill="#C0C0C0"/>
<rect x="379" y="444" width="1" height="28" fill="#C0C0C0"/>
<rect x="387" y="444" width="1" height="17" fill="#C0C0C0"/>
<rect x="395" y="444" width="1" height="7" fill="#C0C0C0"/>
<rect x="427" y="442" width="1" height="3" fill="#C0C0C0"/>
<rect x="435" y="439" width="1" height="6" fill="#C0C0C0"/>
<rect x="443" y="435" width="1" height="10" fill="#C0C0C0"/>
<rect x="451" y="422" width="1" height="23" fill="#C0C0C0"/>
<rect x="459" y="422" width="1" height="23" fill="#C0C0C0"/>
<rect x="467" y="415" width="1" height="30" fill="#C0C0C0"/>
<rect x="475" y="412" width="1" height="33" fill="#C0C0C0"/>
<rect x="483" y="409" width="1" height="36" fill="#C0C0C0"/>
<rect x="491" y="409" width="1" height="36" fill="#C0C0C0"/>
<rect x="499" y="414" width="1" height="31" fill="#C0C0C0"/>
<rect x="507" y="418" width="1" height="27" fill="#C0C0C0"/>
<rect x="515" y="416" width="1" height="29" fill="#C0C0C0"/>
<rect x="523" y="415" width="1" height="30" fill="#C0C0C0"/>
<rect x="531" y="414" width="1" height="31" fill="#C0C0C0"/>
<rect x="539" y="412" width="1" height="33" fill="#C0C0C0"/>
<rect x="547" y="398" width="1" height="47" fill="#C0C0C0"/>
<rect x="555" y="391" width="1" height="54" fill="#C0C0C0"/>
<rect x="563" y="379" width="1" height="66" fill="#C0C0C0"/>
<rect x="571" y="375" width="1" height="70" fill="#C0C0C0"/>
<rect x="579" y="368" width="1" height="77" fill="#C0C0C0"/>
<rect x="587" y="371" width="1" height="74" fill="#C0C0C0"/>
<polyline points="3.5,460.9 11.5,457.4 19.5,454.3 27.5,448.2 35.5,444.4 43.5,438.4 51.5,433.2 59.5,426.1 67.5,421.1 75.5,418.0 83.5,417.0 91.5,417.0 99.5,422.3 107.5,427.0 115.5,434.3 123.5,440.5 131.5,447.8 139.5,454.0 147.5,459.4 155.5,464.6 163.5,467.5 171.5,469.2 179.5,471.7 187.5,474.6 195.5,478.6 203.5,481.3 211.5,485.0 219.5,490.0 227.5,495.6 235.5,502.4 243.5,507.8 251.5,511.5 259.5,514.2 267.5,517.6 275.5,520.8 283.5,522.6 291.5,524.6 299.5,524.6 307.5,524.6 315.5,524.1 323.5,524.0 331.5,523.6 339.5,523.3 347.5,522.6 355.5,521.3 363.5,518.4 371.5,513.7 379.5,507.8 387.5,501.9 395.5,493.2 403.5,485.2 411.5,476.7 419.5,468.5 427.5,460.2 435.5,453.4 443.5,448.4 451.5,443.3 459.5,438.6 467.5,434.3 475.5,430.6 483.5,426.8 491.5,422.2 499.5,419.3 507.5,417.3 515.5,415.4 523.5,414.3 531.5,413.3 539.5,412.3 547.5,411.5 555.5,409.3 563.5,406.4 571.5,400.8 579.5,396.0 587.5,391.7" fill="none" stroke="#FF0000" stroke-width="2" />
<path d="M3.5 623v2M4.5 621v2M5.5 618v3M6.5 616v2M7.5 613v3M8.5 611v2M9.5 608v3M10.5 606v2M11.5 604v2M11.5 603v2M12.5 600v3M13.5 597v3M14.5 594v3M15.5 590v4M16.5 587v3M17.5 584v3M18.5 581v3M19.5 579v2M19.5 579v1M20.5 577v2M21.5 575v2M22.5 573v2M23.5 571v2M24.5 569v2M25.5 567v2M26.5 565v2M27.5 563v2M27.5 563v1M28.5 564v2M29.5 566v2M30.5 568v2M31.5 570v2M32.5 572v2M33.5 574v2M34.5 576v2M35.5 578v1M35 578.5h1M36 579.5h2M38 580.5h1M39 581.5h2M41 582.5h2M43 583.5h1M43.5 583v2M44.5 585v2M45.5 587v2M46.5 589v2M47.5 591v3M48.5 594v2M49.5 596v2M50.5 598v2M51.5 600v2M51 601.5h5M56 600.5h4M59.5 600v2M60.5 602v3M61.5 605v2M62.5 607v3M63.5 610v3M64.5 613v3M65.5 616v2M66.5 618v3M67.5 621v2M67.5 622v2M68.5 624v2M69.5 626v3M70.5 629v2M71.5 631v3M72.5 634v2M73.5 636v3M74.5 639v2M75.5 641v2M75.5 642v2M76.5 644v4M77.5 648v4M78.5 652v3M79.5 655v4M80.5 659v3M81.5 662v4M82.5 666v4M83.5 670v2M83.5 671v1M84.5 672v2M85.5 674v2M86.5 676v2M87.5 678v2M88.5 680v2M89.5 682v2M90.5 684v2M91.5 686v2M91.5 687v1M92.5 688v2M93.5 690v2M94.5 692v2M95.5 694v2M96.5 696v2M97.5 698v2M98.5 700v2M99.5 702v1M99 702.5h9M107.5 702v1M108.5 700v2M109.5 698v2M110.5 697v1M111.5 695v2M112.5 694v1M113.5 692v2M114.5 690v2M115.5 689v1M115.5 688v2M116.5 686v2M117.5 684v2M118.5 682v2M119.5 680v2M120.5 678v2M121.5 676v2M122.5 674v2M123.5 672v2M123 672.5h2M125 671.5h3M128 670.5h2M130 669.5h2M131 669.5h2M133 670.5h4M137 671.5h3M139.5 671v1M140.5 672v2M141.5 674v2M142.5 676v2M143.5 678v1M144.5 679v2M145.5 681v2M146.5 683v2M147.5 685v1M147 685.5h2M149 686.5h4M153 687.5h3M155 687.5h1M156 686.5h2M158 685.5h2M160 684.5h1M161 683.5h2M163 682.5h1M163 682.5h4M167 683.5h5M171 683.5h2M173 684.5h2M175 685.5h3M178 686.5h2M179.5 686v1M180.5 687v2M181.5 689v2M182.5 691v1M183.5 692v2M184.5 694v1M185.5 695v2M186.5 697v2M187.5 699v1M187 699.5h2M189 700.5h4M193 701.5h3M195 701.5h3M198 700.5h4M202 699.5h2M203 699.5h1M204 700.5h2M206 701.5h1M207 702.5h2M209 703.5h2M211 704.5h1M211 704.5h2M213 705.5h2M215 706.5h3M218 707.5h2M219 707.5h9M227 707.5h2M229 706.5h2M231 705.5h2M233 704.5h2M235 703.5h1M235 703.5h1M236 702.5h1M237 701.5h1M238 700.5h1M239 699.5h1M240 698.5h1M241 697.5h1M242 696.5h1M243 695.5h1M243 695.5h1M244 694.5h1M245 693.5h1M246 692.5h2M248 691.5h1M249 690.5h1M250 689.5h1M251 688.5h1M251 688.5h1M252 687.5h2M254 686.5h2M256 685.5h1M257 684.5h2M259 683.5h1M259 683.5h1M260 684.5h2M262 685.5h2M264 686.5h2M266 687.5h2M267 687.5h1M268 688.5h1M269 689.5h2M271 690.5h1M272 691.5h1M273 692.5h2M275 693.5h1M275.5 693v1M276.5 694v2M277.5 696v1M278.5 697v1M279.5 698v2M280.5 700v1M281.5 701v1M282.5 702v2M283.5 704v1M283 704.5h2M285 705.5h4M289 706.5h3M291 706.5h2M293 707.5h4M297 708.5h3M299.5 708v1M300.5 706v2M301.5 705v1M302.5 703v2M303.5 702v1M304.5 700v2M305.5 699v1M306.5 697v2M307.5 696v1M307.5 696v1M308.5 694v2M309.5 693v1M310.5 692v1M311.5 690v2M312.5 689v1M313.5 688v1M314.5 686v2M315.5 685v1M315.5 685v1M316.5 684v1M317.5 683v1M318.5 682v1M319.5 680v2M320.5 679v1M321.5 678v1M322.5 677v1M323.5 676v1M323 676.5h2M325 677.5h2M327 678.5h3M330 679.5h2M331 679.5h1M332 680.5h2M334 681.5h2M336 682.5h2M338 683.5h2M339 683.5h1M340 684.5h1M341 685.5h1M342 686.5h1M343 687.5h2M345 688.5h1M346 689.5h1M347 690.5h1M347.5 689v2M348.5 687v2M349.5 685v2M350.5 683v2M351.5 681v2M352.5 679v2M353.5 677v2M354.5 675v2M355.5 673v2M355.5 672v2M356.5 670v2M357.5 667v3M358.5 664v3M359.5 662v2M360.5 659v3M361.5 656v3M362.5 654v2M363.5 652v2M363.5 649v4M364.5 641v8M365.5 633v8M366.5 625v8M367.5 617v8M368.5 609v8M369.5 601v8M370.5 593v8M371.5 589v4M371.5 589v1M372.5 587v2M373.5 585v2M374.5 583v2M375.5 581v2M376.5 579v2M377.5 577v2M378.5 575v2M379.5 574v1M379.5 574v1M380.5 572v2M381.5 571v1M382.5 569v2M383.5 568v1M384.5 566v2M385.5 565v1M386.5 563v2M387.5 562v1M387 562.5h1M388 563.5h1M389 564.5h1M390 565.5h1M391 566.5h1M392 567.5h1M393 568.5h1M394 569.5h1M395 570.5h1M395 570.5h5M400 569.5h4M403.5 569v1M404.5 570v2M405.5 572v2M406.5 574v2M407.5 576v2M408.5 578v2M409.5 580v2M410.5 582v2M411.5 584v1M411.5 584v1M412.5 585v2M413.5 587v2M414.5 589v2M415.5 591v2M416.5 593v2M417.5 595v2M418.5 597v2M419.5 599v1M419 599.5h1M420 600.5h2M422 601.5h2M424 602.5h2M426 603.5h2M427.5 603v1M428.5 602v1M429.5 601v1M430.5 600v1M431.5 598v2M432.5 597v1M433.5 596v1M434.5 595v1M435.5 594v1M435.5 594v1M436.5 592v2M437.5 590v2M438.5 588v2M439.5 586v2M440.5 584v2M441.5 582v2M442.5 580v2M443.5 579v1M443.5 579v1M444.5 577v2M445.5 575v2M446.5 574v1M447.5 572v2M448.5 571v1M449.5 569v2M450.5 567v2M451.5 566v1M451 566.5h1M452 567.5h2M454 568.5h1M455 569.5h2M457 570.5h2M459 571.5h1M459 571.5h9M467.5 571v1M468.5 572v1M469.5 573v1M470.5 574v1M471.5 575v2M472.5 577v1M473.5 578v1M474.5 579v1M475.5 580v1M475 580.5h1M476 579.5h1M477 578.5h1M478 577.5h2M480 576.5h1M481 575.5h1M482 574.5h1M483 573.5h1M483.5 573v1M484.5 574v1M485.5 575v2M486.5 577v1M487.5 578v1M488.5 579v1M489.5 580v2M490.5 582v1M491.5 583v1M491.5 583v2M492.5 585v2M493.5 587v2M494.5 589v2M495.5 591v2M496.5 593v2M497.5 595v2M498.5 597v2M499.5 599v2M499.5 600v2M500.5 602v2M501.5 604v2M502.5 606v3M503.5 609v2M504.5 611v3M505.5 614v2M506.5 616v2M507.5 618v2M507 619.5h2M509 618.5h3M512 617.5h2M514 616.5h2M515.5 616v1M516.5 614v2M517.5 612v2M518.5 610v2M519.5 609v1M520.5 607v2M521.5 605v2M522.5 603v2M523.5 602v1M523.5 602v1M524.5 600v2M525.5 599v1M526.5 597v2M527.5 596v1M528.5 594v2M529.5 593v1M530.5 591v2M531.5 590v1M531 590.5h1M532 589.5h1M533 588.5h1M534 587.5h1M535 586.5h1M536 585.5h1M537 584.5h1M538 583.5h1M539 582.5h1M539 582.5h1M540 581.5h1M541 580.5h1M542 579.5h2M544 578.5h1M545 577.5h1M546 576.5h1M547 575.5h1M547 575.5h5M552 574.5h4M555 574.5h1M556 573.5h2M558 572.5h2M560 571.5h1M561 570.5h2M563 569.5h1M563 569.5h4M567 570.5h5M571 570.5h2M573 569.5h2M575 568.5h2M577 567.5h2M579 566.5h1M579 566.5h1M580 567.5h1M581 568.5h1M582 569.5h1M583 570.5h1M584 571.5h1M585 572.5h1M586 573.5h1M587 574.5h1" stroke="#20B2AA" stroke-width="1" fill="none"/>
<path d="M3 625.5h1M4 624.5h1M5 624.5h1M9 620.5h1M10 620.5h1M11 619.5h1M13 615.5h1M13 614.5h1M14 613.5h1M15 609.5h1M16 608.5h1M16 607.5h1M18 603.5h1M18 602.5h1M19 601.5h1M20 597.5h1M21 596.5h1M21 595.5h1M23 591.5h1M23 590.5h1M24 589.5h1M26 585.5h1M26 584.5h1M27 583.5h1M30 579.5h1M31 578.5h1M31 577.5h1M35 573.5h1M36 573.5h1M37 574.5h1M41 574.5h1M42 575.5h1M43 575.5h1M46 579.5h1M46 580.5h1M47 581.5h1M50 585.5h1M50 586.5h1M51 587.5h1M55 591.5h1M56 592.5h1M57 593.5h1M60 597.5h1M61 598.5h1M62 599.5h1M64 603.5h1M65 604.5h1M66 605.5h1M68 609.5h1M69 610.5h1M69 611.5h1M72 615.5h1M72 616.5h1M73 617.5h1M75 621.5h1M75 622.5h1M76 623.5h1M77 627.5h1M77 628.5h1M78 629.5h1M79 633.5h1M79 634.5h1M80 635.5h1M81 639.5h1M81 640.5h1M82 641.5h1M83 645.5h1M83 646.5h1M84 647.5h1M85 651.5h1M86 652.5h1M86 653.5h1M87 657.5h1M88 658.5h1M88 659.5h1M90 663.5h1M90 664.5h1M90 665.5h1M92 669.5h1M92 670.5h1M93 671.5h1M94 675.5h1M95 676.5h1M95 677.5h1M97 681.5h1M97 682.5h1M97 683.5h1M99 687.5h1M100 688.5h1M101 689.5h1M104 693.5h1M105 694.5h1M105 695.5h1M109 697.5h1M110 697.5h1M111 698.5h1M115 698.5h1M116 697.5h1M117 696.5h1M120 692.5h1M121 691.5h1M121 690.5h1M124 686.5h1M125 685.5h1M126 684.5h1M129 680.5h1M130 679.5h1M130 678.5h1M134 675.5h1M135 674.5h1M136 673.5h1M140 672.5h1M141 672.5h1M142 672.5h1M146 674.5h1M147 675.5h1M148 676.5h1M152 679.5h1M153 680.5h1M154 680.5h1M158 682.5h1M159 683.5h1M160 684.5h1M164 685.5h1M165 685.5h1M166 685.5h1M170 684.5h1M171 684.5h1M172 684.5h1M176 684.5h1M177 684.5h1M178 684.5h1M182 686.5h1M183 686.5h1M184 687.5h1M188 690.5h1M189 690.5h1M190 691.5h1M194 694.5h1M195 695.5h1M196 696.5h1M200 698.5h1M201 699.5h1M202 699.5h1M206 700.5h1M207 700.5h1M208 701.5h1M212 701.5h1M213 702.5h1M214 702.5h1M218 703.5h1M219 703.5h1M220 703.5h1M224 705.5h1M225 705.5h1M226 706.5h1M230 706.5h1M231 706.5h1M232 705.5h1M236 704.5h1M237 704.5h1M238 704.5h1M242 702.5h1M243 701.5h1M244 700.5h1M248 697.5h1M249 696.5h1M250 696.5h1M254 692.5h1M255 692.5h1M256 691.5h1M260 688.5h1M261 688.5h1M262 687.5h1M266 686.5h1M267 686.5h1M268 686.5h1M272 687.5h1M273 687.5h1M274 687.5h1M278 690.5h1M279 690.5h1M280 691.5h1M284 695.5h1M285 696.5h1M286 697.5h1M290 700.5h1M291 701.5h1M292 702.5h1M296 704.5h1M297 705.5h1M298 705.5h1M302 705.5h1M303 704.5h1M304 704.5h1M308 702.5h1M309 701.5h1M310 700.5h1M314 697.5h1M315 696.5h1M316 695.5h1M319 691.5h1M319 690.5h1M320 689.5h1M323 685.5h1M324 684.5h1M325 684.5h1M329 681.5h1M330 681.5h1M331 680.5h1M335 680.5h1M336 679.5h1M337 679.5h1M341 680.5h1M342 681.5h1M343 682.5h1M347 684.5h1M348 684.5h1M349 684.5h1M353 682.5h1M354 682.5h1M355 682.5h1M358 678.5h1M359 677.5h1M360 676.5h1M363 672.5h1M363 671.5h1M363 670.5h1M364 666.5h1M365 665.5h1M365 664.5h1M366 660.5h1M366 659.5h1M366 658.5h1M367 654.5h1M367 653.5h1M368 652.5h1M369 648.5h1M369 647.5h1M369 646.5h1M370 642.5h1M370 641.5h1M371 640.5h1M371 636.5h1M372 635.5h1M372 634.5h1M373 630.5h1M373 629.5h1M373 628.5h1M374 624.5h1M375 623.5h1M375 622.5h1M376 618.5h1M376 617.5h1M376 616.5h1M377 612.5h1M378 611.5h1M378 610.5h1M379 606.5h1M379 605.5h1M379 604.5h1M380 600.5h1M381 599.5h1M381 598.5h1M382 594.5h1M382 593.5h1M382 592.5h1M384 588.5h1M384 587.5h1M384 586.5h1M385 582.5h1M385 581.5h1M386 580.5h1M387 576.5h1M387 575.5h1M388 574.5h1M392 571.5h1M393 570.5h1M394 570.5h1M398 568.5h1M399 568.5h1M400 568.5h1M404 568.5h1M405 569.5h1M406 570.5h1M410 573.5h1M411 574.5h1M412 575.5h1M415 579.5h1M416 580.5h1M417 581.5h1M420 585.5h1M420 586.5h1M421 587.5h1M424 591.5h1M425 592.5h1M426 593.5h1M429 596.5h1M430 596.5h1M431 596.5h1M435 598.5h1M436 597.5h1M437 596.5h1M441 594.5h1M442 593.5h1M443 592.5h1M445 588.5h1M446 587.5h1M447 586.5h1M449 582.5h1M450 581.5h1M450 580.5h1M454 576.5h1M455 576.5h1M456 575.5h1M460 572.5h1M461 571.5h1M462 571.5h1M466 569.5h1M467 569.5h1M468 570.5h1M472 572.5h1M473 573.5h1M474 573.5h1M478 574.5h1M479 574.5h1M480 575.5h1M484 575.5h1M485 576.5h1M486 576.5h1M490 578.5h1M491 578.5h1M492 579.5h1M496 582.5h1M497 583.5h1M498 584.5h1M501 588.5h1M501 589.5h1M502 590.5h1M504 594.5h1M504 595.5h1M505 596.5h1M507 600.5h1M508 601.5h1M508 602.5h1M511 606.5h1M512 607.5h1M512 608.5h1M515 612.5h1M516 612.5h1M517 612.5h1M521 612.5h1M522 612.5h1M523 612.5h1M527 608.5h1M527 607.5h1M528 606.5h1M532 602.5h1M532 601.5h1M533 600.5h1M536 596.5h1M536 595.5h1M537 594.5h1M540 590.5h1M541 589.5h1M542 588.5h1M545 584.5h1M546 583.5h1M547 582.5h1M551 580.5h1M552 579.5h1M553 578.5h1M557 576.5h1M558 576.5h1M559 575.5h1M563 573.5h1M564 573.5h1M565 572.5h1M569 572.5h1M570 571.5h1M571 571.5h1M575 570.5h1M576 569.5h1M577 569.5h1M581 568.5h1M582 569.5h1M583 569.5h1" stroke="#FF0000" stroke-width="1" fill="none"/>
<rect x="2" y="2" width="667" height="1" fill="#000"/>
<rect x="2" y="358" width="667" height="1" fill="#000"/>
<rect x="2" y="2" width="1" height="357" fill="#000"/>
<rect x="668" y="2" width="1" height="357" fill="#000"/>
<rect x="2" y="360" width="667" height="1" fill="#000"/>
<rect x="2" y="537" width="667" height="1" fill="#000"/>
<rect x="2" y="360" width="1" height="178" fill="#000"/>
<rect x="668" y="360" width="1" height="178" fill="#000"/>
<rect x="2" y="539" width="667" height="1" fill="#000"/>
<rect x="2" y="715" width="667" height="1" fill="#000"/>
<rect x="2" y="539" width="1" height="177" fill="#000"/>
<rect x="668" y="539" width="1" height="177" fill="#000"/>
<rect x="669" y="25" width="2" height="1" fill="#000"/>
<rect x="669" y="58" width="2" height="1" fill="#000"/>
<rect x="669" y="91" width="2" height="1" fill="#000"/>
<rect x="669" y="124" width="2" height="1" fill="#000"/>
<rect x="669" y="157" width="2" height="1" fill="#000"/>
<rect x="669" y="190" width="2" height="1" fill="#000"/>
<rect x="669" y="223" width="2" height="1" fill="#000"/>
<rect x="669" y="256" width="2" height="1" fill="#000"/>
<rect x="669" y="289" width="2" height="1" fill="#000"/>
<rect x="669" y="322" width="2" height="1" fill="#000"/>
<rect x="669" y="355" width="2" height="1" fill="#000"/>
<text x="674.3" y="28" fill="#000" stroke="#000" stroke-width="0.1" font-size="10" textLength="32.3" lengthAdjust="spacingAndGlyphs" text-anchor="start">1.12090</text>
<text x="674.3" y="61" fill="#000" stroke="#000" stroke-width="0.1" font-size="10" textLength="32.3" lengthAdjust="spacingAndGlyphs" text-anchor="start">1.11680</text>
<text x="674.3" y="94" fill="#000" stroke="#000" stroke-width="0.1" font-size="10" textLength="32.3" lengthAdjust="spacingAndGlyphs" text-anchor="start">1.11275</text>
<text x="674.3" y="127" fill="#000" stroke="#000" stroke-width="0.1" font-size="10" textLength="32.3" lengthAdjust="spacingAndGlyphs" text-anchor="start">1.10870</text>
<text x="674.3" y="160" fill="#000" stroke="#000" stroke-width="0.1" font-size="10" textLength="32.3" lengthAdjust="spacingAndGlyphs" text-anchor="start">1.10460</text>
<text x="674.3" y="193" fill="#000" stroke="#000" stroke-width="0.1" font-size="10" textLength="32.3" lengthAdjust="spacingAndGlyphs" text-anchor="start">1.10050</text>
<text x="674.3" y="226" fill="#000" stroke="#000" stroke-width="0.1" font-size="10" textLength="32.3" lengthAdjust="spacingAndGlyphs" text-anchor="start">1.09640</text>
<text x="674.3" y="259" fill="#000" stroke="#000" stroke-width="0.1" font-size="10" textLength="32.3" lengthAdjust="spacingAndGlyphs" text-anchor="start">1.09230</text>
<text x="674.3" y="292" fill="#000" stroke="#000" stroke-width="0.1" font-size="10" textLength="32.3" lengthAdjust="spacingAndGlyphs" text-anchor="start">1.08830</text>
<text x="674.3" y="325" fill="#000" stroke="#000" stroke-width="0.1" font-size="10" textLength="32.3" lengthAdjust="spacingAndGlyphs" text-anchor="start">1.08420</text>
<text x="674.3" y="358" fill="#000" stroke="#000" stroke-width="0.1" font-size="10" textLength="32.3" lengthAdjust="spacingAndGlyphs" text-anchor="start">1.08010</text>
<rect x="670" y="125" width="41" height="11" fill="#000"/>
<rect x="669" y="125" width="1" height="1" fill="#000"/>
<rect x="670" y="14" width="41" height="11" fill="#90EE90"/>
<text x="674.3" y="23" fill="#fff" stroke="#fff" stroke-width="0.1" font-size="10" textLength="32.3" lengthAdjust="spacingAndGlyphs" text-anchor="start">1.12150</text>
<rect x="670" y="67" width="41" height="11" fill="#90EE90"/>
<text x="674.3" y="76" fill="#fff" stroke="#fff" stroke-width="0.1" font-size="10" textLength="32.3" lengthAdjust="spacingAndGlyphs" text-anchor="start">1.11500</text>
<rect x="670" y="83" width="41" height="11" fill="#90EE90"/>
<text x="674.3" y="92" fill="#fff" stroke="#fff" stroke-width="0.1" font-size="10" textLength="32.3" lengthAdjust="spacingAndGlyphs" text-anchor="start">1.11300</text>
<rect x="670" y="99" width="41" height="11" fill="#90EE90"/>
<text x="674.3" y="108" fill="#fff" stroke="#fff" stroke-width="0.1" font-size="10" textLength="32.3" lengthAdjust="spacingAndGlyphs" text-anchor="start">1.11100</text>
<rect x="670" y="126" width="41" height="11" fill="#90EE90"/>
<text x="674.3" y="135" fill="#fff" stroke="#fff" stroke-width="0.1" font-size="10" textLength="32.3" lengthAdjust="spacingAndGlyphs" text-anchor="start">1.10775</text>
<rect x="670" y="148" width="41" height="11" fill="#90EE90"/>
<text x="674.3" y="157" fill="#fff" stroke="#fff" stroke-width="0.1" font-size="10" textLength="32.3" lengthAdjust="spacingAndGlyphs" text-anchor="start">1.10500</text>
<rect x="670" y="176" width="41" height="11" fill="#90EE90"/>
<text x="674.3" y="185" fill="#fff" stroke="#fff" stroke-width="0.1" font-size="10" textLength="32.3" lengthAdjust="spacingAndGlyphs" text-anchor="start">1.10150</text>
<rect x="670" y="194" width="41" height="11" fill="#90EE90"/>
<text x="674.3" y="203" fill="#fff" stroke="#fff" stroke-width="0.1" font-size="10" textLength="32.3" lengthAdjust="spacingAndGlyphs" text-anchor="start">1.09925</text>
<rect x="670" y="221" width="41" height="11" fill="#90EE90"/>
<text x="674.3" y="230" fill="#fff" stroke="#fff" stroke-width="0.1" font-size="10" textLength="32.3" lengthAdjust="spacingAndGlyphs" text-anchor="start">1.09600</text>
<rect x="670" y="249" width="41" height="11" fill="#90EE90"/>
<text x="674.3" y="258" fill="#fff" stroke="#fff" stroke-width="0.1" font-size="10" textLength="32.3" lengthAdjust="spacingAndGlyphs" text-anchor="start">1.09250</text>
<rect x="670" y="267" width="41" height="11" fill="#90EE90"/>
<text x="674.3" y="276" fill="#fff" stroke="#fff" stroke-width="0.1" font-size="10" textLength="32.3" lengthAdjust="spacingAndGlyphs" text-anchor="start">1.09025</text>
<rect x="670" y="293" width="41" height="11" fill="#90EE90"/>
<text x="674.3" y="302" fill="#fff" stroke="#fff" stroke-width="0.1" font-size="10" textLength="32.3" lengthAdjust="spacingAndGlyphs" text-anchor="start">1.08700</text>
<rect x="670" y="305" width="41" height="11" fill="#90EE90"/>
<text x="674.3" y="314" fill="#fff" stroke="#fff" stroke-width="0.1" font-size="10" textLength="32.3" lengthAdjust="spacingAndGlyphs" text-anchor="start">1.08550</text>
<rect x="670" y="328" width="41" height="11" fill="#90EE90"/>
<text x="674.3" y="337" fill="#fff" stroke="#fff" stroke-width="0.1" font-size="10" textLength="32.3" lengthAdjust="spacingAndGlyphs" text-anchor="start">1.08275</text>
<rect x="670" y="344" width="41" height="11" fill="#90EE90"/>
<text x="674.3" y="353" fill="#fff" stroke="#fff" stroke-width="0.1" font-size="10" textLength="32.3" lengthAdjust="spacingAndGlyphs" text-anchor="start">1.08075</text>
<rect x="670" y="31" width="41" height="11" fill="#008080"/>
<text x="674.3" y="40" fill="#fff" stroke="#fff" stroke-width="0.1" font-size="10" textLength="32.3" lengthAdjust="spacingAndGlyphs" text-anchor="start">1.11950</text>
<rect x="670" y="338" width="41" height="11" fill="#008080"/>
<text x="674.3" y="347" fill="#fff" stroke="#fff" stroke-width="0.1" font-size="10" textLength="32.3" lengthAdjust="spacingAndGlyphs" text-anchor="start">1.08150</text>
<rect x="669" y="362" width="1" height="1" fill="#000"/>
<rect x="669" y="444" width="2" height="1" fill="#000"/>
<rect x="669" y="536" width="1" height="1" fill="#000"/>
<text x="672.5" y="371" fill="#000" stroke="#000" stroke-width="0.1" font-size="10" textLength="37" lengthAdjust="spacingAndGlyphs" text-anchor="start">0.004828</text>
<text x="672" y="447" fill="#000" stroke="#000" stroke-width="0.1" font-size="10" textLength="18.3" lengthAdjust="spacingAndGlyphs" text-anchor="start">0.00</text>
<text x="672" y="534" fill="#000" stroke="#000" stroke-width="0.1" font-size="10" textLength="41" lengthAdjust="spacingAndGlyphs" text-anchor="start">-0.005351</text>
<rect x="669" y="541" width="1" height="1" fill="#000"/>
<rect x="669" y="714" width="1" height="1" fill="#000"/>
<text x="672.5" y="550" fill="#000" stroke="#000" stroke-width="0.1" font-size="10" textLength="14" lengthAdjust="spacingAndGlyphs" text-anchor="start">100</text>
<text x="671.5" y="578" fill="#000" stroke="#000" stroke-width="0.1" font-size="10" textLength="9.3" lengthAdjust="spacingAndGlyphs" text-anchor="start">80</text>
<text x="671.5" y="683" fill="#000" stroke="#000" stroke-width="0.1" font-size="10" textLength="9.3" lengthAdjust="spacingAndGlyphs" text-anchor="start">20</text>
<text x="672.5" y="712" fill="#000" stroke="#000" stroke-width="0.1" font-size="10" textLength="4.8" lengthAdjust="spacingAndGlyphs" text-anchor="start">0</text>
<path d="M6 9h7l-3.5 4z" fill="#000"/>
<text x="18.5" y="14" fill="#000" stroke="#000" stroke-width="0.1" font-size="10" textLength="53" lengthAdjust="spacingAndGlyphs" text-anchor="start">EURUSD,H4</text>
<text x="78.2" y="14" fill="#000" stroke="#000" stroke-width="0.1" font-size="10" textLength="31.5" lengthAdjust="spacingAndGlyphs" text-anchor="start">1.10971</text>
<text x="114.47" y="14" fill="#000" stroke="#000" stroke-width="0.1" font-size="10" textLength="31.5" lengthAdjust="spacingAndGlyphs" text-anchor="start">1.10990</text>
<text x="150.74" y="14" fill="#000" stroke="#000" stroke-width="0.1" font-size="10" textLength="31.5" lengthAdjust="spacingAndGlyphs" text-anchor="start">1.10729</text>
<text x="187.01" y="14" fill="#000" stroke="#000" stroke-width="0.1" font-size="10" textLength="31.5" lengthAdjust="spacingAndGlyphs" text-anchor="start">1.10781</text>
<text x="7.5" y="373" fill="#000" stroke="#000" stroke-width="0.1" font-size="10" textLength="65.5" lengthAdjust="spacingAndGlyphs" text-anchor="start">MACD(12,26,9)</text>
<text x="76.5" y="373" fill="#000" stroke="#000" stroke-width="0.1" font-size="10" textLength="37" lengthAdjust="spacingAndGlyphs" text-anchor="start">0.004359</text>
<text x="117.5" y="373" fill="#000" stroke="#000" stroke-width="0.1" font-size="10" textLength="37" lengthAdjust="spacingAndGlyphs" text-anchor="start">0.003134</text>
<text x="7.5" y="552" fill="#000" stroke="#000" stroke-width="0.1" font-size="10" textLength="54" lengthAdjust="spacingAndGlyphs" text-anchor="start">Stoch(13,3,3)</text>
<text x="65.5" y="552" fill="#000" stroke="#000" stroke-width="0.1" font-size="10" textLength="32" lengthAdjust="spacingAndGlyphs" text-anchor="start">79.7648</text>
<text x="101" y="552" fill="#000" stroke="#000" stroke-width="0.1" font-size="10" textLength="32" lengthAdjust="spacingAndGlyphs" text-anchor="start">82.6901</text>
<rect x="3" y="716" width="1" height="3" fill="#000"/>
<text x="2.5" y="728" fill="#000" stroke="#000" stroke-width="0.1" font-size="10" textLength="46.8" lengthAdjust="spacingAndGlyphs" text-anchor="start">10 Jul 2015</text>
<rect x="67" y="716" width="1" height="3" fill="#000"/>
<text x="66.5" y="728" fill="#000" stroke="#000" stroke-width="0.1" font-size="10" textLength="49.1" lengthAdjust="spacingAndGlyphs" text-anchor="start">13 Jul 08:00</text>
<rect x="131" y="716" width="1" height="3" fill="#000"/>
<text x="130.5" y="728" fill="#000" stroke="#000" stroke-width="0.1" font-size="10" textLength="49.1" lengthAdjust="spacingAndGlyphs" text-anchor="start">14 Jul 16:00</text>
<rect x="195" y="716" width="1" height="3" fill="#000"/>
<text x="194.5" y="728" fill="#000" stroke="#000" stroke-width="0.1" font-size="10" textLength="49.1" lengthAdjust="spacingAndGlyphs" text-anchor="start">16 Jul 00:00</text>
<rect x="259" y="716" width="1" height="3" fill="#000"/>
<text x="258.5" y="728" fill="#000" stroke="#000" stroke-width="0.1" font-size="10" textLength="49.1" lengthAdjust="spacingAndGlyphs" text-anchor="start">17 Jul 08:00</text>
<rect x="323" y="716" width="1" height="3" fill="#000"/>
<text x="322.5" y="728" fill="#000" stroke="#000" stroke-width="0.1" font-size="10" textLength="49.1" lengthAdjust="spacingAndGlyphs" text-anchor="start">20 Jul 16:00</text>
<rect x="387" y="716" width="1" height="3" fill="#000"/>
<text x="386.5" y="728" fill="#000" stroke="#000" stroke-width="0.1" font-size="10" textLength="49.1" lengthAdjust="spacingAndGlyphs" text-anchor="start">22 Jul 00:00</text>
<rect x="451" y="716" width="1" height="3" fill="#000"/>
<text x="450.5" y="728" fill="#000" stroke="#000" stroke-width="0.1" font-size="10" textLength="49.1" lengthAdjust="spacingAndGlyphs" text-anchor="start">23 Jul 08:00</text>
<rect x="515" y="716" width="1" height="3" fill="#000"/>
<text x="514.5" y="728" fill="#000" stroke="#000" stroke-width="0.1" font-size="10" textLength="49.1" lengthAdjust="spacingAndGlyphs" text-anchor="start">24 Jul 16:00</text>
<rect x="579" y="716" width="1" height="3" fill="#000"/>
<text x="578.5" y="728" fill="#000" stroke="#000" stroke-width="0.1" font-size="10" textLength="49.1" lengthAdjust="spacingAndGlyphs" text-anchor="start">28 Jul 00:00</text>
</svg>
</body></html>
